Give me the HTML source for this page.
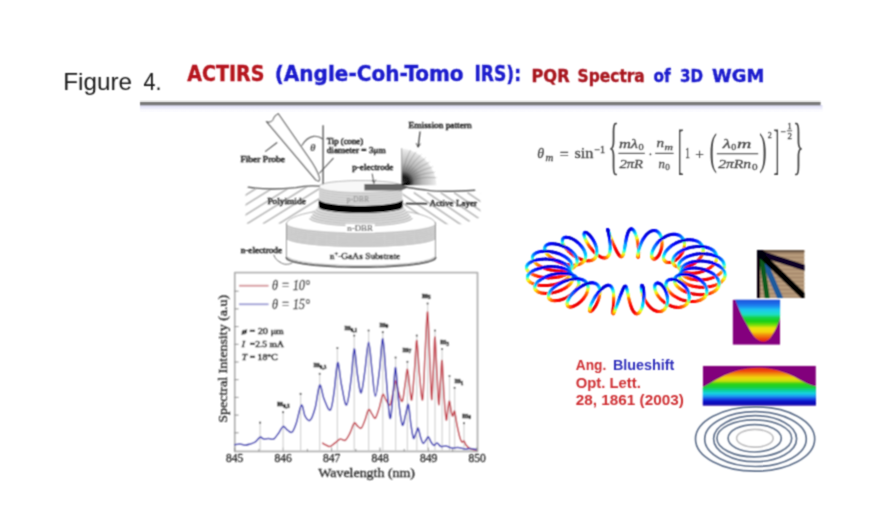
<!DOCTYPE html>
<html lang="en">
<head>
<meta charset="utf-8">
<title>Figure 4. ACTIRS (Angle-Coh-Tomo IRS): PQR Spectra of 3D WGM</title>
<style>
html,body{margin:0;padding:0;background:#fff;}
body{width:869px;height:519px;overflow:hidden;font-family:"Liberation Sans",sans-serif;}
svg{display:block;position:absolute;left:0;top:0;}
text{white-space:pre;}
</style>
</head>
<body>
<svg width="869" height="519" viewBox="0 0 869 519">
<defs>
<filter id="b1" x="-10%" y="-10%" width="120%" height="120%"><feConvolveMatrix order="3" kernelMatrix="0.04 0.12 0.04 0.12 0.36 0.12 0.04 0.12 0.04"/></filter>
<filter id="b2" x="-10%" y="-10%" width="120%" height="120%"><feConvolveMatrix order="3" kernelMatrix="1 2 1 2 4 2 1 2 1" divisor="16"/></filter>
<filter id="b3" x="-10%" y="-10%" width="120%" height="120%"><feGaussianBlur stdDeviation="0.8"/></filter>
</defs>
<rect x="0" y="0" width="869" height="519" fill="#fff"/>
<g id="header"><g filter="url(#b1)">
<linearGradient id="sh" x1="0" y1="105" x2="0" y2="111" gradientUnits="userSpaceOnUse"><stop offset="0" stop-color="#dcdcf6"/><stop offset="0.5" stop-color="#ececfb"/><stop offset="1" stop-color="#ffffff"/></linearGradient>
<rect x="140" y="105" width="682.5" height="6" fill="url(#sh)"/>
<rect x="140" y="101.9" width="680.6" height="3.5" fill="#787878"/>
</g>
<g filter="url(#b1)">
<text font-size="24" font-family='"Liberation Sans", sans-serif' fill="#161616"><tspan x="63.3" y="89.8" textLength="68.7" lengthAdjust="spacingAndGlyphs" >Figure</tspan> <tspan x="143.4" y="89.8" textLength="18" lengthAdjust="spacingAndGlyphs" >4.</tspan></text>
<text font-size="22" font-weight="bold" font-family='"DejaVu Sans Condensed", "DejaVu Sans", "Liberation Sans", sans-serif' stroke-width="0.35"><tspan x="187.3" y="81.1" textLength="77.1" lengthAdjust="spacingAndGlyphs" fill="#b5121b" stroke="#b5121b">ACTIRS</tspan> <tspan x="274.7" y="81.1" textLength="188.9" lengthAdjust="spacingAndGlyphs" fill="#1a1acd" stroke="#1a1acd">(Angle-Coh-Tomo</tspan> <tspan x="474.4" y="81.1" textLength="46.6" lengthAdjust="spacingAndGlyphs" fill="#1a1acd" stroke="#1a1acd">IRS):</tspan> <tspan x="531.5" y="82.0" textLength="38.1" lengthAdjust="spacingAndGlyphs" fill="#a8141e" stroke="#a8141e" font-size="17.5">PQR</tspan> <tspan x="577.6" y="82.0" textLength="67.2" lengthAdjust="spacingAndGlyphs" fill="#a8141e" stroke="#a8141e" font-size="17.5">Spectra</tspan> <tspan x="653.6" y="82.0" textLength="17.2" lengthAdjust="spacingAndGlyphs" fill="#1a1acd" stroke="#1a1acd" font-size="17.5">of</tspan> <tspan x="680" y="82.0" textLength="23" lengthAdjust="spacingAndGlyphs" fill="#1a1acd" stroke="#1a1acd" font-size="17.5">3D</tspan> <tspan x="712" y="82.0" textLength="52.2" lengthAdjust="spacingAndGlyphs" fill="#1a1acd" stroke="#1a1acd" font-size="17.5">WGM</tspan></text>
</g></g>
<g id="device"><g filter="url(#b2)" stroke-linecap="round" stroke-linejoin="round">
<clipPath id="hl"><path d="M245.5,189 L282,189.5 L306,186.5 L319.5,186.5 L319.5,207 L311,213.5 L300,216.5 L287,223.8 L245.5,223.8 Z"/></clipPath>
<path d="M199.9,223.4 L269.9,180.0 M215.8,223.4 L285.8,180.0 M231.7,223.4 L301.7,180.0 M247.6,223.4 L317.6,180.0 M263.5,223.4 L333.5,180.0 M279.4,223.4 L349.4,180.0 M295.3,223.4 L365.3,180.0 M311.2,223.4 L381.2,180.0 M327.1,223.4 L397.1,180.0 M343.0,223.4 L413.0,180.0 M358.9,223.4 L428.9,180.0" stroke="#bcbcbc" stroke-width="1.7" fill="none" clip-path="url(#hl)"/>
<clipPath id="hr"><path d="M402.5,188 L424,190.5 L442,192.3 L475,191 L480.5,193 L480.5,217.5 L462,224.3 L437,224.3 L436,221.5 L423,217.3 L411,213.5 L402.5,206 Z"/></clipPath>
<path d="M360.8,193 L420.8,233.8 M374.2,193 L434.2,233.8 M387.6,193 L447.6,233.8 M401.0,193 L461.0,233.8 M414.4,193 L474.4,233.8 M427.8,193 L487.8,233.8 M441.2,193 L501.2,233.8 M454.6,193 L514.6,233.8 M468.0,193 L528.0,233.8 M481.4,193 L541.4,233.8 M494.8,193 L554.8,233.8" stroke="#bcbcbc" stroke-width="1.7" fill="none" clip-path="url(#hr)"/>
<path d="M286.4,224.2 L286.9,222.4 L288.3,220.6 L290.6,218.9 L293.8,217.3 L297.8,215.7 L302.7,214.2 L308.2,212.9 L314.5,211.7 L321.3,210.7 L328.6,209.8 L336.4,209.1 L344.4,208.6 L352.6,208.3 L361.0,208.2 L369.4,208.3 L377.6,208.6 L385.6,209.1 L393.4,209.8 L400.7,210.7 L407.5,211.7 L413.8,212.9 L419.3,214.2 L424.2,215.7 L428.2,217.3 L431.4,218.9 L433.7,220.6 L435.1,222.4 L435.6,224.2 L435.6,257.6 L435.1,258.7 L433.7,259.7 L431.4,260.8 L428.2,261.8 L424.2,262.7 L419.3,263.6 L413.8,264.4 L407.5,265.1 L400.7,265.7 L393.4,266.2 L385.6,266.7 L377.6,267.0 L369.4,267.1 L361.0,267.2 L352.6,267.1 L344.4,267.0 L336.4,266.7 L328.6,266.2 L321.3,265.7 L314.5,265.1 L308.2,264.4 L302.7,263.6 L297.8,262.7 L293.8,261.8 L290.6,260.8 L288.3,259.7 L286.9,258.7 L286.4,257.6 Z" fill="#fff"/>
<path d="M286.4,222.8 L286.9,223.9 L288.3,224.9 L290.6,225.9 L293.8,226.9 L297.8,227.8 L302.7,228.7 L308.2,229.4 L314.5,230.1 L321.3,230.8 L328.6,231.3 L336.4,231.7 L344.4,232.0 L352.6,232.1 L361.0,232.2 L369.4,232.1 L377.6,232.0 L385.6,231.7 L393.4,231.3 L400.7,230.8 L407.5,230.1 L413.8,229.4 L419.3,228.7 L424.2,227.8 L428.2,226.9 L431.4,225.9 L433.7,224.9 L435.1,223.9 L435.6,222.8 L435.6,238.2 L435.1,239.2 L433.7,240.2 L431.4,241.1 L428.2,242.0 L424.2,242.9 L419.3,243.7 L413.8,244.4 L407.5,245.1 L400.7,245.7 L393.4,246.1 L385.6,246.5 L377.6,246.8 L369.4,246.9 L361.0,247.0 L352.6,246.9 L344.4,246.8 L336.4,246.5 L328.6,246.1 L321.3,245.7 L314.5,245.1 L308.2,244.4 L302.7,243.7 L297.8,242.9 L293.8,242.0 L290.6,241.1 L288.3,240.2 L286.9,239.2 L286.4,238.2 Z" fill="#e3e3e3"/>
<path d="M287.0,225.6 L289.5,227.0 L293.8,228.4 L299.8,229.7 L307.4,230.9 L316.3,231.8 L326.5,232.6 L337.5,233.2 L349.1,233.6 L361.0,233.7 L372.9,233.6 L384.5,233.2 L395.5,232.6 L405.7,231.8 L414.6,230.9 L422.2,229.7 L428.2,228.4 L432.5,227.0 L435.0,225.6 M287.0,227.8 L289.5,229.2 L293.8,230.6 L299.8,231.9 L307.4,233.0 L316.3,234.0 L326.5,234.8 L337.5,235.3 L349.1,235.7 L361.0,235.8 L372.9,235.7 L384.5,235.3 L395.5,234.8 L405.7,234.0 L414.6,233.0 L422.2,231.9 L428.2,230.6 L432.5,229.2 L435.0,227.8 M287.0,230.0 L289.5,231.4 L293.8,232.8 L299.8,234.0 L307.4,235.2 L316.3,236.1 L326.5,236.9 L337.5,237.5 L349.1,237.8 L361.0,237.9 L372.9,237.8 L384.5,237.5 L395.5,236.9 L405.7,236.1 L414.6,235.2 L422.2,234.0 L428.2,232.8 L432.5,231.4 L435.0,230.0 M287.0,232.1 L289.5,233.6 L293.8,234.9 L299.8,236.2 L307.4,237.3 L316.3,238.3 L326.5,239.0 L337.5,239.6 L349.1,239.9 L361.0,240.1 L372.9,239.9 L384.5,239.6 L395.5,239.0 L405.7,238.3 L414.6,237.3 L422.2,236.2 L428.2,234.9 L432.5,233.6 L435.0,232.1 M287.0,234.3 L289.5,235.7 L293.8,237.1 L299.8,238.3 L307.4,239.4 L316.3,240.4 L326.5,241.2 L337.5,241.7 L349.1,242.1 L361.0,242.2 L372.9,242.1 L384.5,241.7 L395.5,241.2 L405.7,240.4 L414.6,239.4 L422.2,238.3 L428.2,237.1 L432.5,235.7 L435.0,234.3 M287.0,236.5 L289.5,237.9 L293.8,239.3 L299.8,240.5 L307.4,241.6 L316.3,242.5 L326.5,243.3 L337.5,243.8 L349.1,244.2 L361.0,244.3 L372.9,244.2 L384.5,243.8 L395.5,243.3 L405.7,242.5 L414.6,241.6 L422.2,240.5 L428.2,239.3 L432.5,237.9 L435.0,236.5 M287.0,238.7 L289.5,240.1 L293.8,241.4 L299.8,242.6 L307.4,243.7 L316.3,244.7 L326.5,245.4 L337.5,246.0 L349.1,246.3 L361.0,246.4 L372.9,246.3 L384.5,246.0 L395.5,245.4 L405.7,244.7 L414.6,243.7 L422.2,242.6 L428.2,241.4 L432.5,240.1 L435.0,238.7" stroke="#a2a2a2" stroke-width="0.8" fill="none"/>
<path d="M286.4,224.2 L286.9,222.4 L288.3,220.6 L290.6,218.9 L293.8,217.3 L297.8,215.7 L302.7,214.2 L308.2,212.9 L314.5,211.7 L321.3,210.7 L328.6,209.8 L336.4,209.1 L344.4,208.6 L352.6,208.3 L361.0,208.2 L369.4,208.3 L377.6,208.6 L385.6,209.1 L393.4,209.8 L400.7,210.7 L407.5,211.7 L413.8,212.9 L419.3,214.2 L424.2,215.7 L428.2,217.3 L431.4,218.9 L433.7,220.6 L435.1,222.4 L435.6,224.2" stroke="#a8a8a8" stroke-width="0.9" fill="none" />
<path d="M286.5,223.5 L286.5,257.8" stroke="#9a9a9a" stroke-width="1.1" fill="none" />
<path d="M435.4,222.5 L435.4,257.6" stroke="#9a9a9a" stroke-width="1.1" fill="none" />
<path d="M288.0,257.5 L289.4,258.5 L291.5,259.4 L294.3,260.3 L297.9,261.1 L302.1,261.9 L307.0,262.7 L312.4,263.4 L318.3,264.0 L324.7,264.5 L331.5,264.9 L338.6,265.3 L345.9,265.5 L353.4,265.7 L361.0,265.7 L368.6,265.7 L376.1,265.5 L383.4,265.3 L390.5,264.9 L397.3,264.5 L403.7,264.0 L409.6,263.4 L415.0,262.7 L419.9,261.9 L424.1,261.1 L427.7,260.3 L430.5,259.4 L432.6,258.5 L434.0,257.5" stroke="#c4c4c4" stroke-width="1.4" fill="none" />
<path d="M286.4,257.6 L286.9,258.7 L288.3,259.7 L290.6,260.8 L293.8,261.8 L297.8,262.7 L302.7,263.6 L308.2,264.4 L314.5,265.1 L321.3,265.7 L328.6,266.2 L336.4,266.7 L344.4,267.0 L352.6,267.1 L361.0,267.2 L369.4,267.1 L377.6,267.0 L385.6,266.7 L393.4,266.2 L400.7,265.7 L407.5,265.1 L413.8,264.4 L419.3,263.6 L424.2,262.7 L428.2,261.8 L431.4,260.8 L433.7,259.7 L435.1,258.7 L435.6,257.6" stroke="#5c5c5c" stroke-width="1.7" fill="none" />
<path d="M319.0,205.3 L319.7,206.0 L320.9,206.7 L322.5,207.4 L324.6,208.1 L327.0,208.7 L329.7,209.2 L332.8,209.7 L336.2,210.2 L339.9,210.6 L343.8,210.9 L347.8,211.2 L352.1,211.4 L356.4,211.5 L360.7,211.5 L365.0,211.5 L369.3,211.4 L373.6,211.2 L377.6,210.9 L381.5,210.6 L385.2,210.2 L388.6,209.7 L391.7,209.2 L394.4,208.7 L396.8,208.1 L398.9,207.4 L400.5,206.7 L401.7,206.0 L402.4,205.3 L412.5,218.7 L411.5,219.5 L410.0,220.4 L407.9,221.2 L405.4,221.9 L402.4,222.6 L399.0,223.3 L395.1,223.9 L390.9,224.4 L386.5,224.9 L381.7,225.3 L376.7,225.6 L371.6,225.8 L366.3,226.0 L361.0,226.0 L355.7,226.0 L350.4,225.8 L345.3,225.6 L340.3,225.3 L335.5,224.9 L331.1,224.4 L326.9,223.9 L323.0,223.3 L319.6,222.6 L316.6,221.9 L314.1,221.2 L312.0,220.4 L310.5,219.5 L309.5,218.7 Z" fill="#e2e2e2"/>
<path d="M318.0,207.7 L319.8,209.1 L323.3,210.4 L328.5,211.6 L335.0,212.6 L342.7,213.3 L351.1,213.8 L359.9,214.0 L368.8,213.9 L377.4,213.5 L385.2,212.8 L392.0,211.8 L397.4,210.7 L401.3,209.4 L403.4,208.0 M316.3,209.9 L318.3,211.4 L322.1,212.8 L327.6,214.0 L334.5,215.0 L342.4,215.8 L351.2,216.2 L360.4,216.4 L369.6,216.3 L378.4,215.8 L386.5,215.1 L393.5,214.1 L399.1,212.9 L403.0,211.5 L405.2,210.1 M314.6,212.2 L316.8,213.7 L320.9,215.1 L326.6,216.4 L333.8,217.4 L342.2,218.2 L351.3,218.6 L360.8,218.8 L370.3,218.6 L379.4,218.2 L387.8,217.4 L395.0,216.4 L400.7,215.1 L404.8,213.7 L407.0,212.2 M312.9,214.4 L315.3,216.0 L319.6,217.5 L325.7,218.7 L333.2,219.8 L341.9,220.6 L351.3,221.0 L361.2,221.2 L371.0,221.0 L380.4,220.5 L389.0,219.7 L396.4,218.6 L402.3,217.4 L406.5,215.9 L408.8,214.3 M311.2,216.7 L313.8,218.3 L318.4,219.8 L324.7,221.1 L332.5,222.2 L341.5,223.0 L351.3,223.5 L361.5,223.6 L371.7,223.4 L381.4,222.9 L390.3,222.0 L397.9,220.9 L404.0,219.6 L408.3,218.1 L410.6,216.4 M309.5,218.9 L312.3,220.6 L317.1,222.1 L323.7,223.5 L331.8,224.6 L341.1,225.4 L351.3,225.9 L361.8,226.0 L372.3,225.8 L382.4,225.2 L391.5,224.4 L399.4,223.2 L405.6,221.8 L410.0,220.2 L412.4,218.6" stroke="#a6a6a6" stroke-width="0.8" fill="none"/>
<path d="M319.1,186.2 L319.4,185.6 L320.1,185.0 L321.4,184.4 L323.2,183.8 L325.5,183.2 L328.2,182.7 L331.3,182.2 L334.8,181.8 L338.6,181.5 L342.7,181.2 L347.0,180.9 L351.4,180.7 L356.0,180.6 L360.7,180.6 L365.4,180.6 L370.0,180.7 L374.4,180.9 L378.7,181.2 L382.8,181.5 L386.6,181.8 L390.1,182.2 L393.2,182.7 L395.9,183.2 L398.2,183.8 L400.0,184.4 L401.3,185.0 L402.0,185.6 L402.3,186.2 L402.3,204.2 L402.0,205.0 L401.3,205.8 L400.0,206.6 L398.2,207.3 L395.9,208.0 L393.2,208.7 L390.1,209.3 L386.6,209.8 L382.8,210.3 L378.7,210.7 L374.4,211.0 L370.0,211.2 L365.4,211.4 L360.7,211.4 L356.0,211.4 L351.4,211.2 L347.0,211.0 L342.7,210.7 L338.6,210.3 L334.8,209.8 L331.3,209.3 L328.2,208.7 L325.5,208.0 L323.2,207.3 L321.4,206.6 L320.1,205.8 L319.4,205.0 L319.1,204.2 Z" fill="#dedede"/>
<path d="M319.1,186.2 L319.4,185.6 L320.1,185.0 L321.4,184.4 L323.2,183.8 L325.5,183.2 L328.2,182.7 L331.3,182.2 L334.8,181.8 L338.6,181.5 L342.7,181.2 L347.0,180.9 L351.4,180.7 L356.0,180.6 L360.7,180.6 L365.4,180.6 L370.0,180.7 L374.4,180.9 L378.7,181.2 L382.8,181.5 L386.6,181.8 L390.1,182.2 L393.2,182.7 L395.9,183.2 L398.2,183.8 L400.0,184.4 L401.3,185.0 L402.0,185.6 L402.3,186.2 L402.3,186.2 L402.0,186.8 L401.3,187.4 L400.0,188.0 L398.2,188.6 L395.9,189.2 L393.2,189.7 L390.1,190.2 L386.6,190.6 L382.8,190.9 L378.7,191.2 L374.4,191.5 L370.0,191.7 L365.4,191.8 L360.7,191.8 L356.0,191.8 L351.4,191.7 L347.0,191.5 L342.7,191.2 L338.6,190.9 L334.8,190.6 L331.3,190.2 L328.2,189.7 L325.5,189.2 L323.2,188.6 L321.4,188.0 L320.1,187.4 L319.4,186.8 L319.1,186.2 Z" fill="#f8f8f8"/>
<path d="M319.1,186.2 L319.4,185.6 L320.1,185.0 L321.4,184.4 L323.2,183.8 L325.5,183.2 L328.2,182.7 L331.3,182.2 L334.8,181.8 L338.6,181.5 L342.7,181.2 L347.0,180.9 L351.4,180.7 L356.0,180.6 L360.7,180.6 L365.4,180.6 L370.0,180.7 L374.4,180.9 L378.7,181.2 L382.8,181.5 L386.6,181.8 L390.1,182.2 L393.2,182.7 L395.9,183.2 L398.2,183.8 L400.0,184.4 L401.3,185.0 L402.0,185.6 L402.3,186.2" stroke="#b0b0b0" stroke-width="0.9" fill="none" />
<path d="M319.6,188.4 L321.7,189.5 L325.4,190.6 L330.6,191.5 L337.0,192.3 L344.3,192.8 L352.3,193.2 L360.7,193.3 L369.1,193.2 L377.1,192.8 L384.4,192.3 L390.8,191.5 L396.0,190.6 L399.7,189.5 L401.8,188.4 M319.6,190.7 L321.7,191.9 L325.4,193.0 L330.6,193.9 L337.0,194.7 L344.3,195.3 L352.3,195.7 L360.7,195.8 L369.1,195.7 L377.1,195.3 L384.4,194.7 L390.8,193.9 L396.0,193.0 L399.7,191.9 L401.8,190.7 M319.6,193.1 L321.7,194.3 L325.4,195.4 L330.6,196.4 L337.0,197.2 L344.3,197.8 L352.3,198.2 L360.7,198.3 L369.1,198.2 L377.1,197.8 L384.4,197.2 L390.8,196.4 L396.0,195.4 L399.7,194.3 L401.8,193.1 M319.6,195.4 L321.7,196.6 L325.4,197.8 L330.6,198.8 L337.0,199.7 L344.3,200.3 L352.3,200.7 L360.7,200.8 L369.1,200.7 L377.1,200.3 L384.4,199.7 L390.8,198.8 L396.0,197.8 L399.7,196.6 L401.8,195.4 M319.6,197.7 L321.7,199.0 L325.4,200.2 L330.6,201.3 L337.0,202.1 L344.3,202.8 L352.3,203.2 L360.7,203.3 L369.1,203.2 L377.1,202.8 L384.4,202.1 L390.8,201.3 L396.0,200.2 L399.7,199.0 L401.8,197.7 M319.6,200.1 L321.7,201.4 L325.4,202.6 L330.6,203.7 L337.0,204.6 L344.3,205.3 L352.3,205.7 L360.7,205.8 L369.1,205.7 L377.1,205.3 L384.4,204.6 L390.8,203.7 L396.0,202.6 L399.7,201.4 L401.8,200.1" stroke="#b2b2b2" stroke-width="0.8" fill="none"/>
<path d="M318.8,199.4 L319.1,200.1 L319.9,200.9 L321.2,201.6 L322.9,202.3 L325.2,202.9 L327.9,203.5 L331.1,204.1 L334.6,204.6 L338.4,205.0 L342.5,205.3 L346.9,205.6 L351.4,205.8 L356.0,206.0 L360.7,206.0 L365.4,206.0 L370.0,205.8 L374.5,205.6 L378.9,205.3 L383.0,205.0 L386.8,204.6 L390.3,204.1 L393.5,203.5 L396.2,202.9 L398.5,202.3 L400.2,201.6 L401.5,200.9 L402.3,200.1 L402.6,199.4 L402.6,207.0 L402.3,207.6 L401.5,208.3 L400.2,208.9 L398.5,209.5 L396.2,210.1 L393.5,210.6 L390.3,211.1 L386.8,211.5 L383.0,211.9 L378.9,212.2 L374.5,212.5 L370.0,212.7 L365.4,212.8 L360.7,212.8 L356.0,212.8 L351.4,212.7 L346.9,212.5 L342.5,212.2 L338.4,211.9 L334.6,211.5 L331.1,211.1 L327.9,210.6 L325.2,210.1 L322.9,209.5 L321.2,208.9 L319.9,208.3 L319.1,207.6 L318.8,207.0 Z" fill="#000"/>
<path d="M364.4,184 L401,184 L408.5,187.2 L401,190.4 L364.4,190.4 Z" fill="#666"/>
<rect x="345.5" y="223.7" width="29.3" height="9" fill="#fff"/>
<radialGradient id="ef" cx="403.2" cy="182.2" r="35" gradientUnits="userSpaceOnUse"><stop offset="0" stop-color="#000"/><stop offset="0.16" stop-color="#080808"/><stop offset="0.32" stop-color="#7c7c7c"/><stop offset="0.55" stop-color="#b8b8b8"/><stop offset="0.82" stop-color="#dcdcdc"/><stop offset="1" stop-color="#f6f6f6"/></radialGradient>
<path d="M401.6,148.6 C419,150 435.5,165 436.4,185.2 L401.6,185.2 Z" fill="url(#ef)"/>
<path d="M402.5,183.5 Q401.7,166.5 410.4,150.4 M402.5,183.5 Q404.6,166.6 415.8,152.2 M402.5,183.5 Q407.3,167.2 420.8,154.8 M402.5,183.5 Q409.9,168.2 425.3,158.2 M402.5,183.5 Q412.4,169.7 429.1,162.3 M402.5,183.5 Q414.5,171.5 432.2,167.0 M402.5,183.5 Q416.3,173.6 434.5,172.2 M402.5,183.5 Q417.8,176.0 436.0,177.6" stroke="#555" stroke-width="0.7" fill="none" opacity="0.45"/>
<path d="M401.7,148.6 L401.7,183" stroke="#9a9a9a" stroke-width="0.9" fill="none" />
<path d="M248.2,187.2 C262,189.4 282,189.2 296,187.6 C305,185.6 312,185.6 319.3,186.2" stroke="#5c5c5c" stroke-width="1.3" fill="none" />
<path d="M403,186.8 C412,188.2 420,189.5 428,190.4 C440,191.8 455,191.5 474.7,190.2" stroke="#5c5c5c" stroke-width="1.4" fill="none" />
<path d="M266.4,121.5 C270,123.2 273.5,121 273.6,118.2 C274.5,116.3 276.5,114.5 278.2,113.7 L308,156.6 C313,163.5 317.5,171 319.3,177.4 C320,180 319.2,181.4 318.2,181 L315.8,180 Z" stroke="#6a6a6a" stroke-width="1.2" fill="#fff" />
<path d="M323.1,125.3 L323.1,184.3" stroke="#7a7a7a" stroke-width="1.7" fill="none" stroke-linecap="butt"/>
<path d="M302,145.3 C304.5,141 308,137.2 313.5,136.4 C317.5,136 320.5,137.2 322.8,139" stroke="#666" stroke-width="1.1" fill="none" />
<path d="M276.8,142.7 L265.5,151.4" stroke="#555" stroke-width="1.1" fill="none" />
<path d="M333.2,158.3 L319.6,173" stroke="#555" stroke-width="1.1" fill="none" />
<path d="M372.2,174 L373.8,182.3" stroke="#555" stroke-width="1.0" fill="none" />
<path d="M372.3,180.3 L373.9,183.4 L375.6,180" stroke="#555" stroke-width="0.9" fill="none" />
<path d="M420,132 L418.2,146.6" stroke="#444" stroke-width="1.3" fill="none" />
<path d="M416.4,143.6 L418.1,147.2 L420.2,144" stroke="#444" stroke-width="1.0" fill="none" />
<path d="M406.4,203.7 L426.7,203.7" stroke="#333" stroke-width="1.7" fill="none" />
<path d="M280,262.1 C283.5,265 288.5,265 292.3,262.8" stroke="#777" stroke-width="1.0" fill="none" />
<path d="M273.8,255 C275,258.5 277,260.5 280,262.1" stroke="#777" stroke-width="1.0" fill="none" />
<text x="240.4" y="162.2" font-size="8.8" font-family='"Liberation Serif", serif' fill="#262626" textLength="44.7" lengthAdjust="spacingAndGlyphs" stroke="#262626" stroke-width="0.5">Fiber Probe</text>
<text x="326.7" y="143.6" font-size="8.6" font-family='"Liberation Serif", serif' fill="#262626" textLength="36.5" lengthAdjust="spacingAndGlyphs" stroke="#262626" stroke-width="0.5">Tip (cone)</text>
<text x="326.7" y="153.4" font-size="8.6" font-family='"Liberation Serif", serif' fill="#262626" textLength="59.0" lengthAdjust="spacingAndGlyphs" stroke="#262626" stroke-width="0.5">diameter = 3μm</text>
<text x="310.2" y="150.6" font-size="10" font-family='"Liberation Serif", serif' fill="#333" font-weight="bold" font-style="italic">θ</text>
<text x="352.2" y="170.4" font-size="8.6" font-family='"Liberation Serif", serif' fill="#262626" textLength="41.2" lengthAdjust="spacingAndGlyphs" stroke="#262626" stroke-width="0.5">p-electrode</text>
<text x="408.6" y="128.1" font-size="8.7" font-family='"Liberation Serif", serif' fill="#262626" textLength="63.0" lengthAdjust="spacingAndGlyphs" stroke="#262626" stroke-width="0.5">Emission pattern</text>
<text x="267.4" y="204.3" font-size="8.6" font-family='"Liberation Serif", serif' fill="#262626" textLength="38.4" lengthAdjust="spacingAndGlyphs" stroke="#262626" stroke-width="0.5">Polyimide</text>
<text x="346.6" y="202.0" font-size="8.0" font-family='"Liberation Serif", serif' fill="#8e8e8e" textLength="22.5" lengthAdjust="spacingAndGlyphs">p-DBR</text>
<text x="347.3" y="231.2" font-size="8.0" font-family='"Liberation Serif", serif' fill="#555" textLength="25.5" lengthAdjust="spacingAndGlyphs" stroke="#555" stroke-width="0.2">n-DBR</text>
<text x="429.5" y="206.0" font-size="8.9" font-family='"Liberation Serif", serif' fill="#262626" textLength="47.5" lengthAdjust="spacingAndGlyphs" stroke="#262626" stroke-width="0.5">Active Layer</text>
<text x="240.7" y="253.3" font-size="8.6" font-family='"Liberation Serif", serif' fill="#262626" textLength="41.3" lengthAdjust="spacingAndGlyphs" stroke="#262626" stroke-width="0.5">n-electrode</text>
<text x="329.8" y="259.2" font-size="8.6" font-family='"Liberation Serif", serif' fill="#262626" stroke="#262626" stroke-width="0.5" textLength="70.5" lengthAdjust="spacingAndGlyphs">n<tspan font-size="6" dy="-3">+</tspan><tspan dy="3">-GaAs Substrate</tspan></text>
</g></g>
<g id="graph"><g filter="url(#b2)" stroke-linecap="round" stroke-linejoin="round">
<rect x="234.8" y="272.6" width="242.7" height="178.8" fill="#fff" stroke="#b2b2b2" stroke-width="1.8"/>
<path d="M235,432.8 L238.2,432.8 M235,415.1 L238.2,415.1 M235,397.4 L238.2,397.4 M235,379.7 L238.2,379.7 M235,362.0 L238.2,362.0 M235,344.3 L238.2,344.3 M235,326.6 L238.2,326.6 M235,308.9 L238.2,308.9 M235,291.2 L238.2,291.2" stroke="#8a8a8a" stroke-width="1" fill="none"/>
<path d="M234.8,451 L234.8,448.0 M259.0,451 L259.0,449.3 M283.2,451 L283.2,448.0 M307.4,451 L307.4,449.3 M331.6,451 L331.6,448.0 M355.8,451 L355.8,449.3 M380.0,451 L380.0,448.0 M404.2,451 L404.2,449.3 M428.4,451 L428.4,448.0 M452.6,451 L452.6,449.3 M476.8,451 L476.8,448.0" stroke="#8a8a8a" stroke-width="1" fill="none"/>
<path d="M260.1,422.7 L260.1,450.5 M283.1,412.2 L283.1,450.5 M300.6,393.9 L300.6,450.5 M319.7,373.8 L319.7,450.5 M337.4,348.0 L337.4,450.5 M354.2,335.6 L354.2,450.5 M368.6,330.5 L368.6,450.5 M382.8,332.2 L382.8,450.5 M395.6,357.5 L395.6,450.5 M407.4,361.8 L407.4,450.5 M416.8,335.6 L416.8,450.5 M427.6,303.5 L427.6,450.5 M435.0,330.5 L435.0,450.5 M442.1,349.0 L442.1,450.5 M449.5,376.0 L449.5,450.5 M454.6,387.8 L454.6,450.5 M464.0,423.2 L464.0,450.5" stroke="#d2d2d2" stroke-width="1.2" fill="none"/>
<circle cx="260.1" cy="422.7" r="1.1" fill="#555"/><circle cx="283.1" cy="412.2" r="1.1" fill="#555"/><circle cx="300.6" cy="393.9" r="1.1" fill="#555"/><circle cx="319.7" cy="373.8" r="1.1" fill="#555"/><circle cx="337.4" cy="348.0" r="1.1" fill="#555"/><circle cx="354.2" cy="335.6" r="1.1" fill="#555"/><circle cx="368.6" cy="330.5" r="1.1" fill="#555"/><circle cx="382.8" cy="332.2" r="1.1" fill="#555"/><circle cx="395.6" cy="357.5" r="1.1" fill="#555"/><circle cx="407.4" cy="361.8" r="1.1" fill="#555"/><circle cx="416.8" cy="335.6" r="1.1" fill="#555"/><circle cx="427.6" cy="303.5" r="1.1" fill="#555"/><circle cx="435.0" cy="330.5" r="1.1" fill="#555"/><circle cx="442.1" cy="349.0" r="1.1" fill="#555"/><circle cx="449.5" cy="376.0" r="1.1" fill="#555"/><circle cx="454.6" cy="387.8" r="1.1" fill="#555"/><circle cx="464.0" cy="423.2" r="1.1" fill="#555"/>
<path d="M322.7,443.2 C323.2,443.5 324.8,444.4 326.0,445.0 C327.2,445.6 328.7,446.8 330.2,446.5 C331.7,446.2 333.3,444.2 335.0,443.0 C336.7,441.8 338.5,439.5 340.2,439.0 C341.9,438.5 343.6,441.2 345.2,440.2 C346.8,439.2 348.5,435.8 350.0,433.0 C351.5,430.2 352.9,424.4 354.2,423.2 C355.4,422.0 356.3,425.2 357.5,426.0 C358.7,426.8 359.9,429.2 361.2,428.2 C362.4,427.2 363.8,423.1 365.0,420.0 C366.2,416.9 367.4,410.7 368.6,409.7 C369.8,408.7 370.9,412.6 372.0,414.0 C373.1,415.4 374.1,419.3 375.4,418.1 C376.6,416.9 378.3,410.9 379.5,407.0 C380.7,403.1 381.7,395.7 382.8,394.5 C383.9,393.3 384.8,398.2 386.0,400.0 C387.2,401.8 388.7,406.2 389.9,405.0 C391.1,403.8 392.1,397.0 393.0,393.0 C393.9,389.0 394.7,381.2 395.6,381.0 C396.5,380.8 397.4,388.6 398.5,392.0 C399.6,395.4 401.2,402.5 402.3,401.3 C403.4,400.1 404.1,390.3 405.0,385.0 C405.9,379.7 406.6,368.8 407.4,369.3 C408.2,369.8 409.1,382.9 409.8,388.0 C410.5,393.1 411.0,402.6 411.8,399.6 C412.6,396.6 413.7,379.8 414.5,370.0 C415.3,360.2 416.0,339.8 416.8,340.6 C417.6,341.4 418.5,365.2 419.5,375.0 C420.5,384.8 421.7,402.9 422.6,399.6 C423.5,396.3 424.2,369.6 425.0,355.0 C425.8,340.4 426.8,311.2 427.6,312.0 C428.4,312.8 429.1,345.4 429.8,360.0 C430.5,374.6 431.1,398.8 431.7,399.6 C432.3,400.4 432.9,375.4 433.5,365.0 C434.1,354.6 434.4,335.5 435.0,337.2 C435.6,338.9 436.4,363.8 437.0,375.0 C437.6,386.2 438.2,403.8 438.8,404.6 C439.4,405.4 439.9,387.3 440.5,380.0 C441.1,372.7 441.5,358.3 442.1,360.8 C442.7,363.3 443.3,385.2 444.0,395.0 C444.7,404.8 445.5,417.6 446.2,419.8 C446.9,422.0 447.4,411.1 448.0,408.0 C448.6,404.9 448.9,400.5 449.5,401.3 C450.1,402.1 450.9,410.6 451.5,413.0 C452.1,415.4 452.3,416.3 452.8,416.0 C453.3,415.7 453.9,409.9 454.6,411.4 C455.3,412.9 456.1,420.6 457.0,425.0 C457.9,429.4 459.2,435.2 460.0,438.0 C460.8,440.8 461.3,441.5 462.0,442.0 C462.7,442.5 463.3,440.7 464.0,441.2 C464.7,441.7 465.2,443.9 466.0,445.0 C466.8,446.1 467.8,447.2 469.0,448.0 C470.2,448.8 471.8,449.2 473.0,449.5 C474.2,449.8 475.5,449.9 476.0,450.0" stroke="#c64c56" stroke-width="1.6" fill="none"/>
<path d="M235.0,444.7 C235.8,444.6 238.3,443.9 240.0,444.0 C241.7,444.1 243.3,445.2 245.0,445.2 C246.7,445.2 248.3,444.5 250.0,444.0 C251.7,443.5 253.3,443.3 255.0,442.2 C256.7,441.1 258.6,437.7 260.1,437.2 C261.6,436.7 262.4,438.8 263.8,439.0 C265.2,439.2 267.1,438.5 268.8,438.5 C270.5,438.5 272.1,440.0 273.8,439.0 C275.5,438.0 277.3,434.8 278.9,432.7 C280.4,430.6 281.7,426.8 283.1,426.4 C284.6,426.0 286.1,429.2 287.6,430.2 C289.1,431.2 290.6,433.4 292.1,432.2 C293.6,430.9 294.8,427.2 296.4,422.7 C297.9,418.2 299.9,406.2 301.4,405.2 C302.9,404.1 303.7,413.9 305.2,416.4 C306.7,418.9 308.5,421.6 310.2,420.2 C311.9,418.8 313.6,413.5 315.2,407.7 C316.8,401.9 318.2,386.6 319.7,385.1 C321.2,383.6 322.2,394.7 324.0,398.9 C325.8,403.1 328.5,411.2 330.2,410.2 C331.9,409.1 332.8,400.5 334.0,392.6 C335.2,384.7 336.4,363.9 337.7,362.6 C338.9,361.3 340.0,377.9 341.5,385.0 C343.0,392.1 344.9,405.8 346.5,405.0 C348.1,404.2 349.7,389.3 351.0,380.0 C352.3,370.7 353.1,349.8 354.2,349.0 C355.3,348.2 356.3,367.7 357.5,375.0 C358.7,382.3 359.9,393.7 361.2,392.9 C362.4,392.1 363.8,378.4 365.0,370.0 C366.2,361.6 367.4,342.3 368.6,342.3 C369.8,342.3 370.9,361.0 372.0,370.0 C373.1,379.0 374.1,396.2 375.4,396.2 C376.6,396.2 378.3,379.6 379.5,370.0 C380.7,360.4 381.7,338.1 382.8,338.9 C383.9,339.7 384.8,361.8 386.0,375.0 C387.2,388.2 388.7,414.8 389.9,418.1 C391.1,421.4 392.1,403.4 393.0,395.0 C393.9,386.6 394.7,366.8 395.6,367.6 C396.5,368.4 397.4,390.4 398.5,400.0 C399.6,409.6 401.1,422.4 402.3,424.9 C403.5,427.4 404.5,418.4 405.5,415.0 C406.5,411.6 407.5,402.9 408.4,404.6 C409.3,406.3 410.1,419.4 411.0,425.0 C411.9,430.6 412.7,437.0 413.5,438.3 C414.3,439.6 415.2,434.7 416.0,433.0 C416.8,431.3 417.4,427.5 418.2,428.2 C418.9,428.9 419.7,434.5 420.5,437.0 C421.3,439.5 422.3,442.9 423.2,443.4 C424.1,443.9 425.1,441.1 426.0,440.0 C426.9,438.9 427.5,436.4 428.3,436.7 C429.1,437.0 430.1,440.5 431.0,442.0 C431.9,443.5 433.0,445.3 434.0,445.5 C435.0,445.7 435.8,442.8 437.0,443.0 C438.2,443.2 439.5,446.0 441.0,446.5 C442.5,447.0 444.2,445.8 446.0,446.0 C447.8,446.2 450.0,447.8 452.0,448.0 C454.0,448.2 455.8,447.3 458.0,447.5 C460.2,447.7 463.0,448.8 465.0,449.0 C467.0,449.2 468.2,448.4 470.0,448.5 C471.8,448.6 475.0,449.3 476.0,449.5" stroke="#4040b6" stroke-width="1.6" fill="none"/>
<path d="M239.8,285.7 L267.8,285.7" stroke="#d89ca0" stroke-width="2"/>
<path d="M239.8,304.3 L267.8,304.3" stroke="#a2a2d8" stroke-width="2"/>
<text x="272" y="290" font-size="14.5" font-family='"Liberation Serif", serif' fill="#1e1e1e" stroke="#1e1e1e" stroke-width="0.28" textLength="38" lengthAdjust="spacingAndGlyphs"><tspan font-style="italic">θ = 10°</tspan></text>
<text x="272" y="308.7" font-size="14.5" font-family='"Liberation Serif", serif' fill="#1e1e1e" stroke="#1e1e1e" stroke-width="0.28" textLength="38" lengthAdjust="spacingAndGlyphs"><tspan font-style="italic">θ = 15°</tspan></text>
<text x="241.8" y="334.4" font-size="8.6" font-family='"Liberation Serif", serif' fill="#1e1e1e" stroke="#1e1e1e" stroke-width="0.55" textLength="42" lengthAdjust="spacingAndGlyphs"><tspan font-style="italic">ø</tspan> = 20 μm</text>
<text x="241.8" y="346.5" font-size="8.6" font-family='"Liberation Serif", serif' fill="#1e1e1e" stroke="#1e1e1e" stroke-width="0.55" textLength="42" lengthAdjust="spacingAndGlyphs"><tspan font-style="italic">I</tspan>  =2.5 mA</text>
<text x="241.8" y="360.3" font-size="8.6" font-family='"Liberation Serif", serif' fill="#1e1e1e" stroke="#1e1e1e" stroke-width="0.55" textLength="36" lengthAdjust="spacingAndGlyphs"><tspan font-style="italic">T</tspan> = 18°C</text>
<text x="283.3" y="406.0" font-size="7.5" font-weight="bold" font-family='"Liberation Serif", serif' fill="#111" stroke="#111" stroke-width="0.4" text-anchor="middle">m<tspan font-size="5.2" dy="1.6">0,5</tspan></text>
<text x="319.9" y="367.0" font-size="7.5" font-weight="bold" font-family='"Liberation Serif", serif' fill="#111" stroke="#111" stroke-width="0.4" text-anchor="middle">m<tspan font-size="5.2" dy="1.6">0,3</tspan></text>
<text x="350.8" y="330.0" font-size="7.5" font-weight="bold" font-family='"Liberation Serif", serif' fill="#111" stroke="#111" stroke-width="0.4" text-anchor="middle">m<tspan font-size="5.2" dy="1.6">0,1</tspan></text>
<text x="384.0" y="326.6" font-size="7.5" font-weight="bold" font-family='"Liberation Serif", serif' fill="#111" stroke="#111" stroke-width="0.4" text-anchor="middle">m<tspan font-size="5.2" dy="1.6">0</tspan></text>
<text x="406.8" y="351.5" font-size="7.5" font-weight="bold" font-family='"Liberation Serif", serif' fill="#111" stroke="#111" stroke-width="0.4" text-anchor="middle">m<tspan font-size="5.2" dy="1.6">7</tspan></text>
<text x="426.2" y="297.6" font-size="7.5" font-weight="bold" font-family='"Liberation Serif", serif' fill="#111" stroke="#111" stroke-width="0.4" text-anchor="middle">m<tspan font-size="5.2" dy="1.6">5</tspan></text>
<text x="444.7" y="344.2" font-size="7.5" font-weight="bold" font-family='"Liberation Serif", serif' fill="#111" stroke="#111" stroke-width="0.4" text-anchor="middle">m<tspan font-size="5.2" dy="1.6">3</tspan></text>
<text x="458.8" y="383.0" font-size="7.5" font-weight="bold" font-family='"Liberation Serif", serif' fill="#111" stroke="#111" stroke-width="0.4" text-anchor="middle">m<tspan font-size="5.2" dy="1.6">1</tspan></text>
<text x="466.6" y="417.6" font-size="7.5" font-weight="bold" font-family='"Liberation Serif", serif' fill="#111" stroke="#111" stroke-width="0.4" text-anchor="middle">m<tspan font-size="5.2" dy="1.6">0</tspan></text>
<text x="234.6" y="462.3" font-size="11.5" font-family='"Liberation Serif", serif' fill="#1e1e1e" text-anchor="middle" stroke="#1e1e1e" stroke-width="0.28">845</text>
<text x="283.0" y="462.3" font-size="11.5" font-family='"Liberation Serif", serif' fill="#1e1e1e" text-anchor="middle" stroke="#1e1e1e" stroke-width="0.28">846</text>
<text x="331.5" y="462.3" font-size="11.5" font-family='"Liberation Serif", serif' fill="#1e1e1e" text-anchor="middle" stroke="#1e1e1e" stroke-width="0.28">847</text>
<text x="380.0" y="462.3" font-size="11.5" font-family='"Liberation Serif", serif' fill="#1e1e1e" text-anchor="middle" stroke="#1e1e1e" stroke-width="0.28">848</text>
<text x="428.5" y="462.3" font-size="11.5" font-family='"Liberation Serif", serif' fill="#1e1e1e" text-anchor="middle" stroke="#1e1e1e" stroke-width="0.28">849</text>
<text x="477.0" y="462.3" font-size="11.5" font-family='"Liberation Serif", serif' fill="#1e1e1e" text-anchor="middle" stroke="#1e1e1e" stroke-width="0.28">850</text>
<text x="318.2" y="477.0" font-size="13.4" font-family='"Liberation Serif", serif' fill="#1e1e1e" textLength="96.8" lengthAdjust="spacingAndGlyphs" stroke="#1e1e1e" stroke-width="0.28">Wavelength (nm)</text>
<text transform="translate(226.6,422.8) rotate(-90)" x="0" y="0" font-size="13.2" font-family='"Liberation Serif", serif' fill="#1e1e1e" stroke="#1e1e1e" stroke-width="0.28" textLength="128" lengthAdjust="spacingAndGlyphs">Spectral Intensity (a.u)</text>
</g></g>
<g id="formula"><g filter="url(#b1)">
<text x="537.3" y="158.2" font-size="14" font-family='"Liberation Serif", serif' fill="#4a4a4a" stroke="#4a4a4a" stroke-width="0.3" font-style="italic" >θ</text>
<text x="545.4" y="161.4" font-size="9.5" font-family='"Liberation Serif", serif' fill="#4a4a4a" stroke="#4a4a4a" stroke-width="0.3" font-style="italic" textLength="7.8" lengthAdjust="spacingAndGlyphs" >m</text>
<text x="559.7" y="158.6" font-size="14" font-family='"Liberation Serif", serif' fill="#4a4a4a" stroke="#4a4a4a" stroke-width="0.3" textLength="9.0" lengthAdjust="spacingAndGlyphs" >=</text>
<text x="574.5" y="158.2" font-size="14" font-family='"Liberation Serif", serif' fill="#4a4a4a" stroke="#4a4a4a" stroke-width="0.3" textLength="19.0" lengthAdjust="spacingAndGlyphs" >sin</text>
<text x="594.2" y="152.6" font-size="9.5" font-family='"Liberation Serif", serif' fill="#4a4a4a" stroke="#4a4a4a" stroke-width="0.3" textLength="10.8" lengthAdjust="spacingAndGlyphs" >−1</text>
<text transform="translate(608.2,166.9) scale(1.6,4.52)" x="0" y="0" font-size="14" font-family='"Liberation Serif", serif' fill="#4a4a4a">{</text>
<text x="618.9" y="147.6" font-size="13" font-family='"Liberation Serif", serif' fill="#4a4a4a" stroke="#4a4a4a" stroke-width="0.3" font-style="italic" textLength="19.0" lengthAdjust="spacingAndGlyphs" >mλ</text>
<text x="638.4" y="150.0" font-size="8.5" font-family='"Liberation Serif", serif' fill="#4a4a4a" stroke="#4a4a4a" stroke-width="0.3" textLength="5.2" lengthAdjust="spacingAndGlyphs" >0</text>
<rect x="618.4" y="152.8" width="26.4" height="1.1" fill="#4a4a4a"/>
<text x="619.4" y="167.6" font-size="13" font-family='"Liberation Serif", serif' fill="#4a4a4a" stroke="#4a4a4a" stroke-width="0.3" font-style="italic" textLength="23.6" lengthAdjust="spacingAndGlyphs" >2πR</text>
<text x="648.2" y="158.0" font-size="13" font-family='"Liberation Serif", serif' fill="#4a4a4a" stroke="#4a4a4a" stroke-width="0.3" >·</text>
<text x="656.4" y="147.2" font-size="13" font-family='"Liberation Serif", serif' fill="#4a4a4a" stroke="#4a4a4a" stroke-width="0.3" font-style="italic" textLength="7.6" lengthAdjust="spacingAndGlyphs" >n</text>
<text x="664.6" y="150.0" font-size="8.5" font-family='"Liberation Serif", serif' fill="#4a4a4a" stroke="#4a4a4a" stroke-width="0.3" font-style="italic" textLength="8.4" lengthAdjust="spacingAndGlyphs" >m</text>
<rect x="655.2" y="152.8" width="18.4" height="1.1" fill="#4a4a4a"/>
<text x="658.6" y="167.6" font-size="13" font-family='"Liberation Serif", serif' fill="#4a4a4a" stroke="#4a4a4a" stroke-width="0.3" font-style="italic" textLength="6.4" lengthAdjust="spacingAndGlyphs" >n</text>
<text x="665.3" y="170.0" font-size="8.5" font-family='"Liberation Serif", serif' fill="#4a4a4a" stroke="#4a4a4a" stroke-width="0.3" textLength="4.6" lengthAdjust="spacingAndGlyphs" >0</text>
<text transform="translate(677.8,168.4) scale(1.25,3.95)" x="0" y="0" font-size="14" font-family='"Liberation Serif", serif' fill="#4a4a4a">[</text>
<text x="685.2" y="158.2" font-size="14" font-family='"Liberation Serif", serif' fill="#4a4a4a" stroke="#4a4a4a" stroke-width="0.3" textLength="4.6" lengthAdjust="spacingAndGlyphs" >1</text>
<text x="695.2" y="158.6" font-size="14" font-family='"Liberation Serif", serif' fill="#4a4a4a" stroke="#4a4a4a" stroke-width="0.3" textLength="8.6" lengthAdjust="spacingAndGlyphs" >+</text>
<text transform="translate(709.4,164.2) scale(1.6,3.1)" x="0" y="0" font-size="14" font-family='"Liberation Serif", serif' fill="#4a4a4a">(</text>
<text x="722.8" y="147.8" font-size="13" font-family='"Liberation Serif", serif' fill="#4a4a4a" stroke="#4a4a4a" stroke-width="0.3" font-style="italic" textLength="8.0" lengthAdjust="spacingAndGlyphs" >λ</text>
<text x="731.2" y="150.2" font-size="8.5" font-family='"Liberation Serif", serif' fill="#4a4a4a" stroke="#4a4a4a" stroke-width="0.3" textLength="5.0" lengthAdjust="spacingAndGlyphs" >0</text>
<text x="737.0" y="147.8" font-size="13" font-family='"Liberation Serif", serif' fill="#4a4a4a" stroke="#4a4a4a" stroke-width="0.3" font-style="italic" textLength="14.3" lengthAdjust="spacingAndGlyphs" >m</text>
<rect x="716.8" y="153.2" width="41.4" height="1.1" fill="#4a4a4a"/>
<text x="718.2" y="167.6" font-size="13" font-family='"Liberation Serif", serif' fill="#4a4a4a" stroke="#4a4a4a" stroke-width="0.3" font-style="italic" textLength="33.0" lengthAdjust="spacingAndGlyphs" >2πRn</text>
<text x="752.0" y="170.0" font-size="8.5" font-family='"Liberation Serif", serif' fill="#4a4a4a" stroke="#4a4a4a" stroke-width="0.3" textLength="5.6" lengthAdjust="spacingAndGlyphs" >0</text>
<text transform="translate(759.2,164.2) scale(1.6,3.1)" x="0" y="0" font-size="14" font-family='"Liberation Serif", serif' fill="#4a4a4a">)</text>
<text x="767.7" y="137.6" font-size="8.5" font-family='"Liberation Serif", serif' fill="#4a4a4a" stroke="#4a4a4a" stroke-width="0.3" textLength="4.0" lengthAdjust="spacingAndGlyphs" >2</text>
<text transform="translate(773.6,168.4) scale(1.25,3.95)" x="0" y="0" font-size="14" font-family='"Liberation Serif", serif' fill="#4a4a4a">]</text>
<text x="780.6" y="135.0" font-size="9.5" font-family='"Liberation Serif", serif' fill="#4a4a4a" stroke="#4a4a4a" stroke-width="0.3" textLength="5.4" lengthAdjust="spacingAndGlyphs" >−</text>
<text x="787.4" y="128.8" font-size="8" font-family='"Liberation Serif", serif' fill="#4a4a4a" stroke="#4a4a4a" stroke-width="0.3" textLength="4.2" lengthAdjust="spacingAndGlyphs" >1</text>
<rect x="786.8" y="130.4" width="5.4" height="0.9" fill="#4a4a4a"/>
<text x="787.4" y="139.0" font-size="8" font-family='"Liberation Serif", serif' fill="#4a4a4a" stroke="#4a4a4a" stroke-width="0.3" textLength="4.4" lengthAdjust="spacingAndGlyphs" >2</text>
<text transform="translate(793.0,166.9) scale(1.6,4.52)" x="0" y="0" font-size="14" font-family='"Liberation Serif", serif' fill="#4a4a4a">}</text>
</g></g>
<g id="torus"><g filter="url(#b1)" stroke-width="3.0" stroke-linecap="round" fill="none">
<path d="M637.3,240.1L636.8,238.0" stroke="#ffc800"/>
<path d="M637.7,242.3L637.3,240.1" stroke="#ff9100"/>
<path d="M636.8,238.0L636.2,236.0" stroke="#f4ff0b"/>
<path d="M611.8,240.2L611.0,238.2" stroke="#ffc800"/>
<path d="M612.6,242.4L611.8,240.2" stroke="#ff9100"/>
<path d="M611.0,238.2L610.2,236.2" stroke="#f4ff0b"/>
<path d="M638.1,244.5L637.7,242.3" stroke="#ff6200"/>
<path d="M613.5,244.5L612.6,242.4" stroke="#ff6200"/>
<path d="M636.2,236.0L635.6,234.2" stroke="#9aff65"/>
<path d="M610.2,236.2L609.5,234.5" stroke="#9aff65"/>
<path d="M614.5,246.6L613.5,244.5" stroke="#ff3c00"/>
<path d="M638.3,246.7L638.1,244.5" stroke="#ff3c00"/>
<path d="M635.6,234.2L634.9,232.6" stroke="#1affe5"/>
<path d="M609.5,234.5L609.0,232.9" stroke="#1affe5"/>
<path d="M615.4,248.6L614.5,246.6" stroke="#ff1c00"/>
<path d="M638.5,248.7L638.3,246.7" stroke="#ff1c00"/>
<path d="M634.9,232.6L634.2,231.2" stroke="#00cfff"/>
<path d="M609.0,232.9L608.5,231.6" stroke="#00cfff"/>
<path d="M662.0,242.4L661.9,240.3" stroke="#ffc800"/>
<path d="M616.3,250.5L615.4,248.6" stroke="#ff0400"/>
<path d="M661.9,240.3L661.5,238.2" stroke="#f4ff0b"/>
<path d="M662.0,244.6L662.0,242.4" stroke="#ff9100"/>
<path d="M638.6,250.7L638.5,248.7" stroke="#ff0400"/>
<path d="M634.2,231.2L633.4,230.1" stroke="#0094ff"/>
<path d="M661.5,238.2L660.9,236.4" stroke="#9aff65"/>
<path d="M588.4,244.8L587.2,242.8" stroke="#ff9100"/>
<path d="M661.8,246.9L662.0,244.6" stroke="#ff6200"/>
<path d="M587.2,242.8L586.1,240.8" stroke="#ffc800"/>
<path d="M589.8,246.9L588.4,244.8" stroke="#ff6200"/>
<path d="M586.1,240.8L585.3,239.0" stroke="#f4ff0b"/>
<path d="M608.5,231.6L608.1,230.6" stroke="#0094ff"/>
<path d="M591.4,248.8L589.8,246.9" stroke="#ff3c00"/>
<path d="M660.9,236.4L660.2,234.7" stroke="#1affe5"/>
<path d="M661.3,249.0L661.8,246.9" stroke="#ff3c00"/>
<path d="M617.2,252.2L616.3,250.5" stroke="#f20000"/>
<path d="M585.3,239.0L584.6,237.3" stroke="#9aff65"/>
<path d="M638.6,252.4L638.6,250.7" stroke="#f20000"/>
<path d="M593.0,250.7L591.4,248.8" stroke="#ff1c00"/>
<path d="M633.4,230.1L632.6,229.4" stroke="#0062ff"/>
<path d="M660.2,234.7L659.2,233.2" stroke="#00cfff"/>
<path d="M660.7,251.1L661.3,249.0" stroke="#ff1c00"/>
<path d="M584.6,237.3L584.2,235.8" stroke="#1affe5"/>
<path d="M608.1,230.6L607.9,229.9" stroke="#0062ff"/>
<path d="M594.7,252.5L593.0,250.7" stroke="#ff0400"/>
<path d="M618.1,253.7L617.2,252.2" stroke="#e90000"/>
<path d="M659.2,233.2L658.1,232.1" stroke="#0094ff"/>
<path d="M638.6,253.9L638.6,252.4" stroke="#e90000"/>
<path d="M660.0,253.0L660.7,251.1" stroke="#ff0400"/>
<path d="M632.6,229.4L631.9,229.0" stroke="#0037ff"/>
<path d="M584.2,235.8L584.0,234.5" stroke="#00cfff"/>
<path d="M596.4,254.1L594.7,252.5" stroke="#f20000"/>
<path d="M607.9,229.9L607.7,229.6" stroke="#0037ff"/>
<path d="M658.1,232.1L656.9,231.2" stroke="#0062ff"/>
<path d="M618.9,254.9L618.1,253.7" stroke="#e70000"/>
<path d="M659.1,254.7L660.0,253.0" stroke="#f20000"/>
<path d="M638.5,255.2L638.6,253.9" stroke="#e70000"/>
<path d="M584.0,234.5L584.1,233.5" stroke="#0094ff"/>
<path d="M631.9,229.0L631.1,228.9" stroke="#0015ff"/>
<path d="M598.2,255.4L596.4,254.1" stroke="#e90000"/>
<path d="M656.9,231.2L655.6,230.7" stroke="#0037ff"/>
<path d="M607.7,229.6L607.7,229.5" stroke="#0015ff"/>
<path d="M684.3,247.1L684.5,244.9" stroke="#ffc800"/>
<path d="M658.2,256.1L659.1,254.7" stroke="#e90000"/>
<path d="M684.5,244.9L684.4,242.8" stroke="#f4ff0b"/>
<path d="M683.8,249.2L684.3,247.1" stroke="#ff9100"/>
<path d="M619.7,255.8L618.9,254.9" stroke="#ec0000"/>
<path d="M584.1,233.5L584.4,232.8" stroke="#0062ff"/>
<path d="M684.4,242.8L683.9,240.9" stroke="#9aff65"/>
<path d="M683.0,251.4L683.8,249.2" stroke="#ff6200"/>
<path d="M638.4,256.1L638.5,255.2" stroke="#ec0000"/>
<path d="M599.8,256.5L598.2,255.4" stroke="#e70000"/>
<path d="M568.6,251.4L566.8,249.5" stroke="#ff6200"/>
<path d="M566.8,249.5L565.3,247.6" stroke="#ff9100"/>
<path d="M631.1,228.9L630.3,229.2" stroke="#0000f8"/>
<path d="M570.6,253.2L568.6,251.4" stroke="#ff3c00"/>
<path d="M565.3,247.6L564.0,245.8" stroke="#ffc800"/>
<path d="M683.9,240.9L683.1,239.1" stroke="#1affe5"/>
<path d="M681.9,253.5L683.0,251.4" stroke="#ff3c00"/>
<path d="M655.6,230.7L654.1,230.5" stroke="#0015ff"/>
<path d="M572.9,254.9L570.6,253.2" stroke="#ff1c00"/>
<path d="M564.0,245.8L563.1,244.0" stroke="#f4ff0b"/>
<path d="M657.2,257.3L658.2,256.1" stroke="#e70000"/>
<path d="M607.7,229.5L607.8,229.8" stroke="#0000f8"/>
<path d="M683.1,239.1L682.1,237.6" stroke="#00cfff"/>
<path d="M680.6,255.4L681.9,253.5" stroke="#ff1c00"/>
<path d="M584.4,232.8L584.9,232.4" stroke="#0037ff"/>
<path d="M620.4,256.4L619.7,255.8" stroke="#f90000"/>
<path d="M575.2,256.5L572.9,254.9" stroke="#ff0400"/>
<path d="M563.1,244.0L562.5,242.4" stroke="#9aff65"/>
<path d="M601.5,257.3L599.8,256.5" stroke="#ec0000"/>
<path d="M638.2,256.8L638.4,256.1" stroke="#f90000"/>
<path d="M630.3,229.2L629.6,229.8" stroke="#0000e4"/>
<path d="M682.1,237.6L680.7,236.3" stroke="#0094ff"/>
<path d="M679.1,257.2L680.6,255.4" stroke="#ff0400"/>
<path d="M654.1,230.5L652.6,230.7" stroke="#0000f8"/>
<path d="M577.6,257.8L575.2,256.5" stroke="#f20000"/>
<path d="M562.5,242.4L562.3,240.9" stroke="#1affe5"/>
<path d="M656.2,258.2L657.2,257.3" stroke="#ec0000"/>
<path d="M607.8,229.8L607.9,230.4" stroke="#0000e4"/>
<path d="M584.9,232.4L585.6,232.4" stroke="#0015ff"/>
<path d="M621.1,256.7L620.4,256.4" stroke="#ff0e00"/>
<path d="M680.7,236.3L679.1,235.3" stroke="#0062ff"/>
<path d="M603.0,257.8L601.5,257.3" stroke="#f90000"/>
<path d="M580.1,259.0L577.6,257.8" stroke="#e90000"/>
<path d="M677.4,258.8L679.1,257.2" stroke="#f20000"/>
<path d="M562.3,240.9L562.4,239.6" stroke="#00cfff"/>
<path d="M638.1,257.1L638.2,256.8" stroke="#ff0e00"/>
<path d="M629.6,229.8L628.9,230.7" stroke="#0000d8"/>
<path d="M652.6,230.7L651.1,231.2" stroke="#0000e4"/>
<path d="M679.1,235.3L677.2,234.7" stroke="#0037ff"/>
<path d="M655.2,258.8L656.2,258.2" stroke="#f90000"/>
<path d="M582.5,259.9L580.1,259.0" stroke="#e70000"/>
<path d="M607.9,230.4L608.1,231.4" stroke="#0000d8"/>
<path d="M585.6,232.4L586.4,232.6" stroke="#0000f8"/>
<path d="M675.6,260.1L677.4,258.8" stroke="#e90000"/>
<path d="M604.4,257.9L603.0,257.8" stroke="#ff0e00"/>
<path d="M562.4,239.6L562.9,238.6" stroke="#0094ff"/>
<path d="M621.7,256.6L621.1,256.7" stroke="#ff2900"/>
<path d="M638.0,257.0L638.1,257.1" stroke="#ff2900"/>
<path d="M628.9,230.7L628.3,231.9" stroke="#0000d2"/>
<path d="M651.1,231.2L649.5,232.0" stroke="#0000d8"/>
<path d="M677.2,234.7L675.2,234.3" stroke="#0015ff"/>
<path d="M584.9,260.5L582.5,259.9" stroke="#ec0000"/>
<path d="M673.7,261.2L675.6,260.1" stroke="#e70000"/>
<path d="M654.3,259.0L655.2,258.8" stroke="#ff0e00"/>
<path d="M562.9,238.6L563.7,237.9" stroke="#0062ff"/>
<path d="M608.1,231.4L608.4,232.6" stroke="#0000d2"/>
<path d="M605.7,257.8L604.4,257.9" stroke="#ff2900"/>
<path d="M586.4,232.6L587.4,233.2" stroke="#0000e4"/>
<path d="M622.3,256.2L621.7,256.6" stroke="#ff4c00"/>
<path d="M675.2,234.3L673.0,234.3" stroke="#0000f8"/>
<path d="M637.9,256.6L638.0,257.0" stroke="#ff4c00"/>
<path d="M649.5,232.0L648.0,233.1" stroke="#0000d2"/>
<path d="M628.3,231.9L627.7,233.4" stroke="#0000d4"/>
<path d="M587.1,260.8L584.9,260.5" stroke="#f90000"/>
<path d="M671.9,262.0L673.7,261.2" stroke="#ec0000"/>
<path d="M563.7,237.9L564.8,237.4" stroke="#0037ff"/>
<path d="M653.4,258.9L654.3,259.0" stroke="#ff2900"/>
<path d="M702.6,253.6L703.1,251.5" stroke="#ffc800"/>
<path d="M606.9,257.3L605.7,257.8" stroke="#ff4c00"/>
<path d="M701.7,255.8L702.6,253.6" stroke="#ff9100"/>
<path d="M622.8,255.5L622.3,256.2" stroke="#ff7600"/>
<path d="M608.4,232.6L608.7,234.1" stroke="#0000d4"/>
<path d="M703.1,251.5L703.2,249.5" stroke="#f4ff0b"/>
<path d="M587.4,233.2L588.5,234.1" stroke="#0000d8"/>
<path d="M700.3,257.8L701.7,255.8" stroke="#ff6200"/>
<path d="M703.2,249.5L702.9,247.5" stroke="#9aff65"/>
<path d="M673.0,234.3L670.8,234.6" stroke="#0000e4"/>
<path d="M553.7,259.4L551.3,257.8" stroke="#ff3c00"/>
<path d="M551.3,257.8L549.2,256.1" stroke="#ff6200"/>
<path d="M589.2,260.8L587.1,260.8" stroke="#ff0e00"/>
<path d="M556.3,260.9L553.7,259.4" stroke="#ff1c00"/>
<path d="M648.0,233.1L646.5,234.5" stroke="#0000d4"/>
<path d="M627.7,233.4L627.2,235.1" stroke="#0000de"/>
<path d="M637.9,255.9L637.9,256.6" stroke="#ff7600"/>
<path d="M698.7,259.8L700.3,257.8" stroke="#ff3c00"/>
<path d="M549.2,256.1L547.4,254.4" stroke="#ff9100"/>
<path d="M702.9,247.5L702.2,245.7" stroke="#1affe5"/>
<path d="M559.1,262.2L556.3,260.9" stroke="#ff0400"/>
<path d="M670.1,262.4L671.9,262.0" stroke="#f90000"/>
<path d="M547.4,254.4L546.1,252.7" stroke="#ffc800"/>
<path d="M696.7,261.6L698.7,259.8" stroke="#ff1c00"/>
<path d="M564.8,237.4L566.1,237.2" stroke="#0015ff"/>
<path d="M607.8,256.5L606.9,257.3" stroke="#ff7600"/>
<path d="M623.2,254.4L622.8,255.5" stroke="#ffa800"/>
<path d="M702.2,245.7L701.0,244.0" stroke="#00cfff"/>
<path d="M562.1,263.3L559.1,262.2" stroke="#f20000"/>
<path d="M652.7,258.5L653.4,258.9" stroke="#ff4c00"/>
<path d="M608.7,234.1L609.1,235.9" stroke="#0000de"/>
<path d="M546.1,252.7L545.2,251.0" stroke="#f4ff0b"/>
<path d="M588.5,234.1L589.7,235.2" stroke="#0000d2"/>
<path d="M670.8,234.6L668.5,235.2" stroke="#0000d8"/>
<path d="M627.2,235.1L626.7,237.0" stroke="#0000ef"/>
<path d="M591.1,260.5L589.2,260.8" stroke="#ff2900"/>
<path d="M646.5,234.5L645.2,236.1" stroke="#0000de"/>
<path d="M694.5,263.2L696.7,261.6" stroke="#ff0400"/>
<path d="M637.9,254.9L637.9,255.9" stroke="#ffa800"/>
<path d="M565.1,264.2L562.1,263.3" stroke="#e90000"/>
<path d="M701.0,244.0L699.5,242.6" stroke="#0094ff"/>
<path d="M545.2,251.0L544.7,249.4" stroke="#9aff65"/>
<path d="M623.6,253.1L623.2,254.4" stroke="#ffe400"/>
<path d="M668.5,262.5L670.1,262.4" stroke="#ff0e00"/>
<path d="M608.7,255.4L607.8,256.5" stroke="#ffa800"/>
<path d="M566.1,237.2L567.8,237.4" stroke="#0000f8"/>
<path d="M609.1,235.9L609.4,237.8" stroke="#0000ef"/>
<path d="M692.1,264.6L694.5,263.2" stroke="#f20000"/>
<path d="M568.2,264.8L565.1,264.2" stroke="#e70000"/>
<path d="M652.2,257.8L652.7,258.5" stroke="#ff7600"/>
<path d="M626.7,237.0L626.2,239.1" stroke="#0008ff"/>
<path d="M699.5,242.6L697.6,241.4" stroke="#0062ff"/>
<path d="M668.5,235.2L666.2,236.2" stroke="#0000d2"/>
<path d="M645.2,236.1L643.9,238.0" stroke="#0000ef"/>
<path d="M638.1,253.6L637.9,254.9" stroke="#ffe400"/>
<path d="M592.8,259.8L591.1,260.5" stroke="#ff4c00"/>
<path d="M589.7,235.2L590.9,236.7" stroke="#0000d4"/>
<path d="M544.7,249.4L544.7,247.9" stroke="#1affe5"/>
<path d="M624.0,251.5L623.6,253.1" stroke="#d1ff2e"/>
<path d="M609.3,254.0L608.7,255.4" stroke="#ffe400"/>
<path d="M626.2,239.1L625.8,241.2" stroke="#0027ff"/>
<path d="M689.6,265.7L692.1,264.6" stroke="#e90000"/>
<path d="M571.1,265.1L568.2,264.8" stroke="#ec0000"/>
<path d="M609.4,237.8L609.7,239.9" stroke="#0008ff"/>
<path d="M697.6,241.4L695.4,240.6" stroke="#0037ff"/>
<path d="M643.9,238.0L642.7,239.9" stroke="#0008ff"/>
<path d="M667.0,262.3L668.5,262.5" stroke="#ff2900"/>
<path d="M638.3,252.0L638.1,253.6" stroke="#d1ff2e"/>
<path d="M624.4,249.7L624.0,251.5" stroke="#50ffaf"/>
<path d="M666.2,236.2L664.0,237.4" stroke="#0000d4"/>
<path d="M651.8,256.7L652.2,257.8" stroke="#ffa800"/>
<path d="M567.8,237.4L569.6,237.8" stroke="#0000e4"/>
<path d="M625.8,241.2L625.4,243.4" stroke="#004eff"/>
<path d="M594.2,258.9L592.8,259.8" stroke="#ff7600"/>
<path d="M544.7,247.9L545.1,246.7" stroke="#00cfff"/>
<path d="M609.8,252.3L609.3,254.0" stroke="#d1ff2e"/>
<path d="M590.9,236.7L592.1,238.3" stroke="#0000de"/>
<path d="M624.7,247.7L624.4,249.7" stroke="#00f6ff"/>
<path d="M609.7,239.9L610.0,242.0" stroke="#0027ff"/>
<path d="M625.4,243.4L625.1,245.6" stroke="#007dff"/>
<path d="M642.7,239.9L641.6,242.0" stroke="#0027ff"/>
<path d="M573.9,265.2L571.1,265.1" stroke="#f90000"/>
<path d="M625.1,245.6L624.7,247.7" stroke="#00b4ff"/>
<path d="M638.7,250.2L638.3,252.0" stroke="#50ffaf"/>
<path d="M687.0,266.5L689.6,265.7" stroke="#e70000"/>
<path d="M695.4,240.6L692.9,240.0" stroke="#0015ff"/>
<path d="M610.1,250.5L609.8,252.3" stroke="#50ffaf"/>
<path d="M641.6,242.0L640.7,244.1" stroke="#004eff"/>
<path d="M664.0,237.4L661.8,238.8" stroke="#0000de"/>
<path d="M610.0,242.0L610.2,244.2" stroke="#004eff"/>
<path d="M639.2,248.3L638.7,250.2" stroke="#00f6ff"/>
<path d="M651.7,255.4L651.8,256.7" stroke="#ffe400"/>
<path d="M665.7,261.8L667.0,262.3" stroke="#ff4c00"/>
<path d="M595.3,257.7L594.2,258.9" stroke="#ffa800"/>
<path d="M640.7,244.1L639.9,246.2" stroke="#007dff"/>
<path d="M639.9,246.2L639.2,248.3" stroke="#00b4ff"/>
<path d="M545.1,246.7L545.9,245.6" stroke="#0094ff"/>
<path d="M610.2,248.5L610.1,250.5" stroke="#00f6ff"/>
<path d="M610.2,244.2L610.3,246.4" stroke="#007dff"/>
<path d="M569.6,237.8L571.5,238.5" stroke="#0000d8"/>
<path d="M592.1,238.3L593.3,240.2" stroke="#0000ef"/>
<path d="M610.3,246.4L610.2,248.5" stroke="#00b4ff"/>
<path d="M576.5,265.0L573.9,265.2" stroke="#ff0e00"/>
<path d="M692.9,240.0L690.3,239.7" stroke="#0000f8"/>
<path d="M684.5,267.1L687.0,266.5" stroke="#ec0000"/>
<path d="M661.8,238.8L659.8,240.5" stroke="#0000ef"/>
<path d="M651.8,253.9L651.7,255.4" stroke="#d1ff2e"/>
<path d="M596.1,256.2L595.3,257.7" stroke="#ffe400"/>
<path d="M593.3,240.2L594.4,242.2" stroke="#0008ff"/>
<path d="M545.9,245.6L547.2,244.7" stroke="#0062ff"/>
<path d="M664.7,260.9L665.7,261.8" stroke="#ff7600"/>
<path d="M578.9,264.4L576.5,265.0" stroke="#ff2900"/>
<path d="M690.3,239.7L687.5,239.8" stroke="#0000e4"/>
<path d="M659.8,240.5L658.0,242.3" stroke="#0008ff"/>
<path d="M571.5,238.5L573.5,239.5" stroke="#0000d2"/>
<path d="M652.2,252.1L651.8,253.9" stroke="#50ffaf"/>
<path d="M682.1,267.3L684.5,267.1" stroke="#f90000"/>
<path d="M596.6,254.5L596.1,256.2" stroke="#d1ff2e"/>
<path d="M594.4,242.2L595.3,244.3" stroke="#0027ff"/>
<path d="M658.0,242.3L656.3,244.3" stroke="#0027ff"/>
<path d="M652.8,250.3L652.2,252.1" stroke="#00f6ff"/>
<path d="M596.9,252.7L596.6,254.5" stroke="#50ffaf"/>
<path d="M580.9,263.6L578.9,264.4" stroke="#ff4c00"/>
<path d="M656.3,244.3L654.9,246.3" stroke="#004eff"/>
<path d="M687.5,239.8L684.6,240.2" stroke="#0000d8"/>
<path d="M653.8,248.3L652.8,250.3" stroke="#00b4ff"/>
<path d="M595.3,244.3L596.0,246.4" stroke="#004eff"/>
<path d="M547.2,244.7L548.8,244.1" stroke="#0037ff"/>
<path d="M664.0,259.8L664.7,260.9" stroke="#ffa800"/>
<path d="M654.9,246.3L653.8,248.3" stroke="#007dff"/>
<path d="M596.8,250.7L596.9,252.7" stroke="#00f6ff"/>
<path d="M596.0,246.4L596.6,248.6" stroke="#007dff"/>
<path d="M573.5,239.5L575.5,240.8" stroke="#0000d4"/>
<path d="M596.6,248.6L596.8,250.7" stroke="#00b4ff"/>
<path d="M679.8,267.2L682.1,267.3" stroke="#ff0e00"/>
<path d="M684.6,240.2L681.7,240.9" stroke="#0000d2"/>
<path d="M582.6,262.5L580.9,263.6" stroke="#ff7600"/>
<path d="M663.6,258.5L664.0,259.8" stroke="#ffe400"/>
<path d="M548.8,244.1L550.8,243.8" stroke="#0015ff"/>
<path d="M575.5,240.8L577.5,242.3" stroke="#0000de"/>
<path d="M677.7,266.8L679.8,267.2" stroke="#ff2900"/>
<path d="M547.6,269.2L544.5,268.2" stroke="#ff0400"/>
<path d="M544.5,268.2L541.6,267.0" stroke="#ff1c00"/>
<path d="M681.7,240.9L678.8,241.8" stroke="#0000d4"/>
<path d="M550.9,270.0L547.6,269.2" stroke="#f20000"/>
<path d="M714.3,263.8L715.7,261.8" stroke="#ff9100"/>
<path d="M584.0,261.2L582.6,262.5" stroke="#ffa800"/>
<path d="M541.6,267.0L539.0,265.7" stroke="#ff3c00"/>
<path d="M715.7,261.8L716.5,259.7" stroke="#ffc800"/>
<path d="M712.6,265.7L714.3,263.8" stroke="#ff6200"/>
<path d="M716.5,259.7L716.8,257.7" stroke="#f4ff0b"/>
<path d="M710.5,267.4L712.6,265.7" stroke="#ff3c00"/>
<path d="M554.3,270.6L550.9,270.0" stroke="#e90000"/>
<path d="M663.5,257.0L663.6,258.5" stroke="#d1ff2e"/>
<path d="M539.0,265.7L536.8,264.2" stroke="#ff6200"/>
<path d="M716.8,257.7L716.7,255.7" stroke="#9aff65"/>
<path d="M708.0,269.0L710.5,267.4" stroke="#ff1c00"/>
<path d="M577.5,242.3L579.4,244.0" stroke="#0000ef"/>
<path d="M557.7,270.9L554.3,270.6" stroke="#e70000"/>
<path d="M678.8,241.8L676.0,243.0" stroke="#0000de"/>
<path d="M550.8,243.8L553.1,243.7" stroke="#0000f8"/>
<path d="M536.8,264.2L535.0,262.6" stroke="#ff9100"/>
<path d="M584.9,259.7L584.0,261.2" stroke="#ffe400"/>
<path d="M716.7,255.7L716.0,253.8" stroke="#1affe5"/>
<path d="M705.2,270.4L708.0,269.0" stroke="#ff0400"/>
<path d="M675.9,266.2L677.7,266.8" stroke="#ff4c00"/>
<path d="M663.9,255.3L663.5,257.0" stroke="#50ffaf"/>
<path d="M561.0,271.0L557.7,270.9" stroke="#ec0000"/>
<path d="M676.0,243.0L673.4,244.5" stroke="#0000ef"/>
<path d="M716.0,253.8L714.9,252.0" stroke="#00cfff"/>
<path d="M535.0,262.6L533.6,261.0" stroke="#ffc800"/>
<path d="M579.4,244.0L581.1,245.9" stroke="#0008ff"/>
<path d="M585.5,257.9L584.9,259.7" stroke="#d1ff2e"/>
<path d="M702.3,271.5L705.2,270.4" stroke="#f20000"/>
<path d="M664.6,253.5L663.9,255.3" stroke="#00f6ff"/>
<path d="M564.2,270.7L561.0,271.0" stroke="#f90000"/>
<path d="M673.4,244.5L671.1,246.1" stroke="#0008ff"/>
<path d="M714.9,252.0L713.3,250.4" stroke="#0094ff"/>
<path d="M553.1,243.7L555.5,244.0" stroke="#0000e4"/>
<path d="M581.1,245.9L582.6,247.9" stroke="#0027ff"/>
<path d="M665.7,251.6L664.6,253.5" stroke="#00b4ff"/>
<path d="M585.7,256.0L585.5,257.9" stroke="#50ffaf"/>
<path d="M533.6,261.0L532.8,259.5" stroke="#f4ff0b"/>
<path d="M671.1,246.1L669.0,247.9" stroke="#0027ff"/>
<path d="M699.2,272.4L702.3,271.5" stroke="#e90000"/>
<path d="M674.5,265.2L675.9,266.2" stroke="#ff7600"/>
<path d="M667.2,249.7L665.7,251.6" stroke="#007dff"/>
<path d="M669.0,247.9L667.2,249.7" stroke="#004eff"/>
<path d="M582.6,247.9L583.9,249.9" stroke="#004eff"/>
<path d="M585.4,254.0L585.7,256.0" stroke="#00f6ff"/>
<path d="M567.1,270.2L564.2,270.7" stroke="#ff0e00"/>
<path d="M713.3,250.4L711.2,249.1" stroke="#0062ff"/>
<path d="M583.9,249.9L584.8,252.0" stroke="#007dff"/>
<path d="M584.8,252.0L585.4,254.0" stroke="#00b4ff"/>
<path d="M532.8,259.5L532.4,257.9" stroke="#9aff65"/>
<path d="M696.1,272.9L699.2,272.4" stroke="#e70000"/>
<path d="M711.2,249.1L708.8,248.0" stroke="#0037ff"/>
<path d="M555.5,244.0L558.1,244.5" stroke="#0000d8"/>
<path d="M569.8,269.4L567.1,270.2" stroke="#ff2900"/>
<path d="M673.5,264.0L674.5,265.2" stroke="#ffa800"/>
<path d="M693.1,273.2L696.1,272.9" stroke="#ec0000"/>
<path d="M532.4,257.9L532.6,256.4" stroke="#1affe5"/>
<path d="M708.8,248.0L706.1,247.2" stroke="#0015ff"/>
<path d="M572.1,268.4L569.8,269.4" stroke="#ff4c00"/>
<path d="M558.1,244.5L560.8,245.3" stroke="#0000d2"/>
<path d="M672.9,262.6L673.5,264.0" stroke="#ffe400"/>
<path d="M706.1,247.2L703.1,246.6" stroke="#0000f8"/>
<path d="M690.1,273.2L693.1,273.2" stroke="#f90000"/>
<path d="M574.0,267.2L572.1,268.4" stroke="#ff7600"/>
<path d="M532.6,256.4L533.3,255.1" stroke="#00cfff"/>
<path d="M703.1,246.6L699.9,246.4" stroke="#0000e4"/>
<path d="M672.7,261.1L672.9,262.6" stroke="#d1ff2e"/>
<path d="M560.8,245.3L563.5,246.3" stroke="#0000d4"/>
<path d="M575.5,265.7L574.0,267.2" stroke="#ffa800"/>
<path d="M687.4,272.8L690.1,273.2" stroke="#ff0e00"/>
<path d="M533.3,255.1L534.5,253.9" stroke="#0094ff"/>
<path d="M699.9,246.4L696.6,246.5" stroke="#0000d8"/>
<path d="M673.0,259.4L672.7,261.1" stroke="#50ffaf"/>
<path d="M563.5,246.3L566.1,247.6" stroke="#0000de"/>
<path d="M576.6,264.0L575.5,265.7" stroke="#ffe400"/>
<path d="M696.6,246.5L693.3,246.9" stroke="#0000d2"/>
<path d="M684.9,272.2L687.4,272.8" stroke="#ff2900"/>
<path d="M673.7,257.7L673.0,259.4" stroke="#00f6ff"/>
<path d="M577.1,262.3L576.6,264.0" stroke="#d1ff2e"/>
<path d="M566.1,247.6L568.6,249.1" stroke="#0000ef"/>
<path d="M534.5,253.9L536.1,252.9" stroke="#0062ff"/>
<path d="M693.3,246.9L690.0,247.5" stroke="#0000d4"/>
<path d="M675.0,255.9L673.7,257.7" stroke="#00b4ff"/>
<path d="M577.2,260.4L577.1,262.3" stroke="#50ffaf"/>
<path d="M568.6,249.1L570.9,250.7" stroke="#0008ff"/>
<path d="M690.0,247.5L686.8,248.5" stroke="#0000de"/>
<path d="M682.8,271.4L684.9,272.2" stroke="#ff4c00"/>
<path d="M676.6,254.2L675.0,255.9" stroke="#007dff"/>
<path d="M576.8,258.4L577.2,260.4" stroke="#00f6ff"/>
<path d="M686.8,248.5L683.8,249.6" stroke="#0000ef"/>
<path d="M570.9,250.7L572.9,252.5" stroke="#0027ff"/>
<path d="M678.7,252.5L676.6,254.2" stroke="#004eff"/>
<path d="M683.8,249.6L681.1,251.0" stroke="#0008ff"/>
<path d="M681.1,251.0L678.7,252.5" stroke="#0027ff"/>
<path d="M575.9,256.4L576.8,258.4" stroke="#00b4ff"/>
<path d="M536.1,252.9L538.1,252.1" stroke="#0037ff"/>
<path d="M572.9,252.5L574.6,254.4" stroke="#004eff"/>
<path d="M574.6,254.4L575.9,256.4" stroke="#007dff"/>
<path d="M681.0,270.3L682.8,271.4" stroke="#ff7600"/>
<path d="M538.1,252.1L540.6,251.6" stroke="#0015ff"/>
<path d="M551.9,277.8L548.4,277.9" stroke="#e70000"/>
<path d="M548.4,277.9L544.9,277.6" stroke="#e90000"/>
<path d="M555.4,277.5L551.9,277.8" stroke="#ec0000"/>
<path d="M544.9,277.6L541.5,277.2" stroke="#f20000"/>
<path d="M679.8,269.0L681.0,270.3" stroke="#ffa800"/>
<path d="M558.7,277.0L555.4,277.5" stroke="#f90000"/>
<path d="M541.5,277.2L538.2,276.4" stroke="#ff0400"/>
<path d="M561.8,276.2L558.7,277.0" stroke="#ff0e00"/>
<path d="M538.2,276.4L535.3,275.5" stroke="#ff1c00"/>
<path d="M540.6,251.6L543.3,251.3" stroke="#0000f8"/>
<path d="M678.9,267.5L679.8,269.0" stroke="#ffe400"/>
<path d="M564.6,275.2L561.8,276.2" stroke="#ff2900"/>
<path d="M535.3,275.5L532.7,274.4" stroke="#ff3c00"/>
<path d="M716.5,276.0L718.9,274.4" stroke="#ff3c00"/>
<path d="M713.7,277.3L716.5,276.0" stroke="#ff1c00"/>
<path d="M567.0,273.9L564.6,275.2" stroke="#ff4c00"/>
<path d="M718.9,274.4L721.0,272.7" stroke="#ff6200"/>
<path d="M710.6,278.4L713.7,277.3" stroke="#ff0400"/>
<path d="M721.0,272.7L722.6,270.9" stroke="#ff9100"/>
<path d="M543.3,251.3L546.3,251.3" stroke="#0000e4"/>
<path d="M707.3,279.2L710.6,278.4" stroke="#f20000"/>
<path d="M532.7,274.4L530.4,273.2" stroke="#ff6200"/>
<path d="M722.6,270.9L723.7,268.9" stroke="#ffc800"/>
<path d="M678.6,266.0L678.9,267.5" stroke="#d1ff2e"/>
<path d="M569.0,272.4L567.0,273.9" stroke="#ff7600"/>
<path d="M703.9,279.7L707.3,279.2" stroke="#e90000"/>
<path d="M723.7,268.9L724.2,266.9" stroke="#f4ff0b"/>
<path d="M724.2,266.9L724.2,264.9" stroke="#9aff65"/>
<path d="M700.5,280.0L703.9,279.7" stroke="#e70000"/>
<path d="M530.4,273.2L528.7,271.8" stroke="#ff9100"/>
<path d="M570.5,270.8L569.0,272.4" stroke="#ffa800"/>
<path d="M546.3,251.3L549.4,251.5" stroke="#0000d8"/>
<path d="M678.9,264.3L678.6,266.0" stroke="#50ffaf"/>
<path d="M724.2,264.9L723.7,262.9" stroke="#1affe5"/>
<path d="M697.1,279.9L700.5,280.0" stroke="#ec0000"/>
<path d="M571.5,269.1L570.5,270.8" stroke="#ffe400"/>
<path d="M723.7,262.9L722.7,261.1" stroke="#00cfff"/>
<path d="M528.7,271.8L527.4,270.3" stroke="#ffc800"/>
<path d="M549.4,251.5L552.6,252.0" stroke="#0000d2"/>
<path d="M693.8,279.6L697.1,279.9" stroke="#f90000"/>
<path d="M679.6,262.7L678.9,264.3" stroke="#00f6ff"/>
<path d="M722.7,261.1L721.1,259.3" stroke="#0094ff"/>
<path d="M572.0,267.3L571.5,269.1" stroke="#d1ff2e"/>
<path d="M721.1,259.3L719.0,257.8" stroke="#0062ff"/>
<path d="M690.8,279.0L693.8,279.6" stroke="#ff0e00"/>
<path d="M552.6,252.0L555.8,252.7" stroke="#0000d4"/>
<path d="M680.9,261.0L679.6,262.7" stroke="#00b4ff"/>
<path d="M572.0,265.4L572.0,267.3" stroke="#50ffaf"/>
<path d="M527.4,270.3L526.7,268.8" stroke="#f4ff0b"/>
<path d="M719.0,257.8L716.6,256.5" stroke="#0037ff"/>
<path d="M555.8,252.7L558.9,253.7" stroke="#0000de"/>
<path d="M571.4,263.4L572.0,265.4" stroke="#00f6ff"/>
<path d="M688.1,278.1L690.8,279.0" stroke="#ff2900"/>
<path d="M682.6,259.4L680.9,261.0" stroke="#007dff"/>
<path d="M716.6,256.5L713.8,255.4" stroke="#0015ff"/>
<path d="M570.4,261.5L571.4,263.4" stroke="#00b4ff"/>
<path d="M558.9,253.7L561.8,255.0" stroke="#0000ef"/>
<path d="M526.7,268.8L526.5,267.3" stroke="#9aff65"/>
<path d="M713.8,255.4L710.6,254.5" stroke="#0000f8"/>
<path d="M684.8,258.0L682.6,259.4" stroke="#004eff"/>
<path d="M568.8,259.7L570.4,261.5" stroke="#007dff"/>
<path d="M561.8,255.0L564.5,256.4" stroke="#0008ff"/>
<path d="M685.7,277.1L688.1,278.1" stroke="#ff4c00"/>
<path d="M566.8,258.0L568.8,259.7" stroke="#004eff"/>
<path d="M564.5,256.4L566.8,258.0" stroke="#0027ff"/>
<path d="M710.6,254.5L707.3,254.0" stroke="#0000e4"/>
<path d="M687.4,256.7L684.8,258.0" stroke="#0027ff"/>
<path d="M707.3,254.0L703.8,253.7" stroke="#0000d8"/>
<path d="M690.3,255.6L687.4,256.7" stroke="#0008ff"/>
<path d="M703.8,253.7L700.3,253.8" stroke="#0000d2"/>
<path d="M693.5,254.7L690.3,255.6" stroke="#0000ef"/>
<path d="M700.3,253.8L696.8,254.1" stroke="#0000d4"/>
<path d="M526.5,267.3L526.9,265.8" stroke="#1affe5"/>
<path d="M696.8,254.1L693.5,254.7" stroke="#0000de"/>
<path d="M683.8,275.8L685.7,277.1" stroke="#ff7600"/>
<path d="M682.4,274.4L683.8,275.8" stroke="#ffa800"/>
<path d="M526.9,265.8L527.8,264.4" stroke="#00cfff"/>
<path d="M681.4,272.8L682.4,274.4" stroke="#ffe400"/>
<path d="M527.8,264.4L529.2,263.1" stroke="#0094ff"/>
<path d="M681.0,271.2L681.4,272.8" stroke="#d1ff2e"/>
<path d="M560.8,282.5L557.8,283.6" stroke="#ff0e00"/>
<path d="M557.8,283.6L554.5,284.4" stroke="#f90000"/>
<path d="M563.5,281.2L560.8,282.5" stroke="#ff2900"/>
<path d="M554.5,284.4L551.1,285.1" stroke="#ec0000"/>
<path d="M565.9,279.7L563.5,281.2" stroke="#ff4c00"/>
<path d="M529.2,263.1L531.1,261.9" stroke="#0062ff"/>
<path d="M567.8,278.0L565.9,279.7" stroke="#ff7600"/>
<path d="M551.1,285.1L547.7,285.4" stroke="#e70000"/>
<path d="M681.1,269.6L681.0,271.2" stroke="#50ffaf"/>
<path d="M569.2,276.3L567.8,278.0" stroke="#ffa800"/>
<path d="M547.7,285.4L544.3,285.5" stroke="#e90000"/>
<path d="M531.1,261.9L533.4,260.9" stroke="#0037ff"/>
<path d="M570.2,274.4L569.2,276.3" stroke="#ffe400"/>
<path d="M681.8,268.0L681.1,269.6" stroke="#00f6ff"/>
<path d="M544.3,285.5L541.0,285.4" stroke="#f20000"/>
<path d="M570.6,272.6L570.2,274.4" stroke="#d1ff2e"/>
<path d="M533.4,260.9L536.2,260.1" stroke="#0015ff"/>
<path d="M541.0,285.4L537.9,285.0" stroke="#ff0400"/>
<path d="M570.5,270.7L570.6,272.6" stroke="#50ffaf"/>
<path d="M683.0,266.5L681.8,268.0" stroke="#00b4ff"/>
<path d="M536.2,260.1L539.2,259.5" stroke="#0000f8"/>
<path d="M569.8,268.8L570.5,270.7" stroke="#00f6ff"/>
<path d="M537.9,285.0L535.1,284.4" stroke="#ff1c00"/>
<path d="M684.7,265.1L683.0,266.5" stroke="#007dff"/>
<path d="M699.7,287.2L703.2,287.3" stroke="#e70000"/>
<path d="M696.2,286.8L699.7,287.2" stroke="#ec0000"/>
<path d="M568.6,267.0L569.8,268.8" stroke="#00b4ff"/>
<path d="M703.2,287.3L706.7,287.1" stroke="#e90000"/>
<path d="M692.9,286.2L696.2,286.8" stroke="#f90000"/>
<path d="M539.2,259.5L542.4,259.2" stroke="#0000e4"/>
<path d="M706.7,287.1L710.1,286.6" stroke="#f20000"/>
<path d="M689.8,285.3L692.9,286.2" stroke="#ff0e00"/>
<path d="M710.1,286.6L713.4,285.8" stroke="#ff0400"/>
<path d="M566.9,265.4L568.6,267.0" stroke="#007dff"/>
<path d="M687.0,284.2L689.8,285.3" stroke="#ff2900"/>
<path d="M713.4,285.8L716.3,284.8" stroke="#ff1c00"/>
<path d="M542.4,259.2L545.8,259.1" stroke="#0000d8"/>
<path d="M686.9,263.8L684.7,265.1" stroke="#004eff"/>
<path d="M535.1,284.4L532.7,283.5" stroke="#ff3c00"/>
<path d="M564.7,263.8L566.9,265.4" stroke="#004eff"/>
<path d="M716.3,284.8L718.9,283.5" stroke="#ff3c00"/>
<path d="M545.8,259.1L549.3,259.3" stroke="#0000d2"/>
<path d="M684.6,282.9L687.0,284.2" stroke="#ff4c00"/>
<path d="M562.2,262.5L564.7,263.8" stroke="#0027ff"/>
<path d="M718.9,283.5L721.2,282.0" stroke="#ff6200"/>
<path d="M549.3,259.3L552.8,259.7" stroke="#0000d4"/>
<path d="M689.4,262.8L686.9,263.8" stroke="#0027ff"/>
<path d="M559.3,261.3L562.2,262.5" stroke="#0008ff"/>
<path d="M552.8,259.7L556.1,260.4" stroke="#0000de"/>
<path d="M556.1,260.4L559.3,261.3" stroke="#0000ef"/>
<path d="M682.6,281.4L684.6,282.9" stroke="#ff7600"/>
<path d="M532.7,283.5L530.6,282.5" stroke="#ff6200"/>
<path d="M721.2,282.0L722.9,280.3" stroke="#ff9100"/>
<path d="M692.3,262.0L689.4,262.8" stroke="#0008ff"/>
<path d="M722.9,280.3L724.2,278.5" stroke="#ffc800"/>
<path d="M681.1,279.8L682.6,281.4" stroke="#ffa800"/>
<path d="M724.2,278.5L724.9,276.5" stroke="#f4ff0b"/>
<path d="M695.5,261.4L692.3,262.0" stroke="#0000ef"/>
<path d="M530.6,282.5L529.0,281.2" stroke="#ff9100"/>
<path d="M680.1,278.2L681.1,279.8" stroke="#ffe400"/>
<path d="M724.9,276.5L725.1,274.5" stroke="#9aff65"/>
<path d="M698.8,261.1L695.5,261.4" stroke="#0000de"/>
<path d="M725.1,274.5L724.7,272.5" stroke="#1affe5"/>
<path d="M702.3,261.1L698.8,261.1" stroke="#0000d4"/>
<path d="M724.7,272.5L723.8,270.6" stroke="#00cfff"/>
<path d="M679.6,276.5L680.1,278.2" stroke="#d1ff2e"/>
<path d="M529.0,281.2L527.9,279.9" stroke="#ffc800"/>
<path d="M705.8,261.4L702.3,261.1" stroke="#0000d2"/>
<path d="M723.8,270.6L722.4,268.7" stroke="#0094ff"/>
<path d="M722.4,268.7L720.5,267.0" stroke="#0062ff"/>
<path d="M709.2,262.0L705.8,261.4" stroke="#0000d8"/>
<path d="M720.5,267.0L718.2,265.4" stroke="#0037ff"/>
<path d="M712.4,262.9L709.2,262.0" stroke="#0000e4"/>
<path d="M718.2,265.4L715.4,264.0" stroke="#0015ff"/>
<path d="M715.4,264.0L712.4,262.9" stroke="#0000f8"/>
<path d="M679.6,274.9L679.6,276.5" stroke="#50ffaf"/>
<path d="M568.8,285.4L566.7,287.1" stroke="#ff4c00"/>
<path d="M570.6,283.6L568.8,285.4" stroke="#ff7600"/>
<path d="M527.9,279.9L527.4,278.4" stroke="#f4ff0b"/>
<path d="M566.7,287.1L564.2,288.6" stroke="#ff2900"/>
<path d="M571.8,281.7L570.6,283.6" stroke="#ffa800"/>
<path d="M564.2,288.6L561.5,290.0" stroke="#ff0e00"/>
<path d="M572.7,279.7L571.8,281.7" stroke="#ffe400"/>
<path d="M680.2,273.4L679.6,274.9" stroke="#00f6ff"/>
<path d="M573.0,277.8L572.7,279.7" stroke="#d1ff2e"/>
<path d="M561.5,290.0L558.5,291.2" stroke="#f90000"/>
<path d="M527.4,278.4L527.4,276.9" stroke="#9aff65"/>
<path d="M572.7,275.9L573.0,277.8" stroke="#50ffaf"/>
<path d="M558.5,291.2L555.5,292.1" stroke="#ec0000"/>
<path d="M681.2,272.0L680.2,273.4" stroke="#00b4ff"/>
<path d="M572.0,274.2L572.7,275.9" stroke="#00f6ff"/>
<path d="M527.4,276.9L527.9,275.4" stroke="#1affe5"/>
<path d="M555.5,292.1L552.4,292.8" stroke="#e70000"/>
<path d="M570.7,272.5L572.0,274.2" stroke="#00b4ff"/>
<path d="M682.8,270.7L681.2,272.0" stroke="#007dff"/>
<path d="M527.9,275.4L528.9,273.9" stroke="#00cfff"/>
<path d="M552.4,292.8L549.3,293.2" stroke="#e90000"/>
<path d="M569.0,271.0L570.7,272.5" stroke="#007dff"/>
<path d="M684.8,269.7L682.8,270.7" stroke="#004eff"/>
<path d="M681.8,289.9L684.5,291.3" stroke="#ff2900"/>
<path d="M684.5,291.3L687.4,292.5" stroke="#ff0e00"/>
<path d="M566.8,269.7L569.0,271.0" stroke="#004eff"/>
<path d="M679.5,288.3L681.8,289.9" stroke="#ff4c00"/>
<path d="M528.9,273.9L530.5,272.4" stroke="#0094ff"/>
<path d="M687.4,292.5L690.6,293.4" stroke="#f90000"/>
<path d="M677.6,286.7L679.5,288.3" stroke="#ff7600"/>
<path d="M549.3,293.2L546.4,293.4" stroke="#f20000"/>
<path d="M690.6,293.4L693.9,294.1" stroke="#ec0000"/>
<path d="M564.2,268.6L566.8,269.7" stroke="#0027ff"/>
<path d="M676.1,285.0L677.6,286.7" stroke="#ffa800"/>
<path d="M530.5,272.4L532.6,271.1" stroke="#0062ff"/>
<path d="M687.1,268.9L684.8,269.7" stroke="#0027ff"/>
<path d="M693.9,294.1L697.3,294.6" stroke="#e70000"/>
<path d="M675.0,283.2L676.1,285.0" stroke="#ffe400"/>
<path d="M561.3,267.7L564.2,268.6" stroke="#0008ff"/>
<path d="M546.4,293.4L543.6,293.3" stroke="#ff0400"/>
<path d="M697.3,294.6L700.7,294.7" stroke="#e90000"/>
<path d="M532.6,271.1L535.0,269.8" stroke="#0037ff"/>
<path d="M558.1,267.1L561.3,267.7" stroke="#0000ef"/>
<path d="M689.8,268.3L687.1,268.9" stroke="#0008ff"/>
<path d="M674.5,281.5L675.0,283.2" stroke="#d1ff2e"/>
<path d="M535.0,269.8L537.8,268.8" stroke="#0015ff"/>
<path d="M700.7,294.7L704.0,294.5" stroke="#f20000"/>
<path d="M554.8,266.7L558.1,267.1" stroke="#0000de"/>
<path d="M537.8,268.8L541.0,267.9" stroke="#0000f8"/>
<path d="M551.3,266.6L554.8,266.7" stroke="#0000d4"/>
<path d="M543.6,293.3L541.1,292.9" stroke="#ff1c00"/>
<path d="M541.0,267.9L544.3,267.2" stroke="#0000e4"/>
<path d="M547.8,266.8L551.3,266.6" stroke="#0000d2"/>
<path d="M704.0,294.5L707.1,294.1" stroke="#ff0400"/>
<path d="M544.3,267.2L547.8,266.8" stroke="#0000d8"/>
<path d="M674.4,279.9L674.5,281.5" stroke="#50ffaf"/>
<path d="M692.7,268.1L689.8,268.3" stroke="#0000ef"/>
<path d="M578.1,286.6L577.1,288.6" stroke="#ffa800"/>
<path d="M577.1,288.6L575.7,290.6" stroke="#ff7600"/>
<path d="M578.7,284.6L578.1,286.6" stroke="#ffe400"/>
<path d="M575.7,290.6L573.9,292.5" stroke="#ff4c00"/>
<path d="M707.1,294.1L710.0,293.3" stroke="#ff1c00"/>
<path d="M578.9,282.7L578.7,284.6" stroke="#d1ff2e"/>
<path d="M674.8,278.4L674.4,279.9" stroke="#00f6ff"/>
<path d="M695.8,268.1L692.7,268.1" stroke="#0000de"/>
<path d="M573.9,292.5L571.8,294.3" stroke="#ff2900"/>
<path d="M541.1,292.9L539.0,292.3" stroke="#ff3c00"/>
<path d="M710.0,293.3L712.6,292.3" stroke="#ff3c00"/>
<path d="M578.6,280.8L578.9,282.7" stroke="#50ffaf"/>
<path d="M571.8,294.3L569.5,295.9" stroke="#ff0e00"/>
<path d="M699.0,268.4L695.8,268.1" stroke="#0000d4"/>
<path d="M675.7,277.1L674.8,278.4" stroke="#00b4ff"/>
<path d="M712.6,292.3L714.8,291.0" stroke="#ff6200"/>
<path d="M577.9,279.1L578.6,280.8" stroke="#00f6ff"/>
<path d="M539.0,292.3L537.3,291.4" stroke="#ff6200"/>
<path d="M569.5,295.9L567.1,297.3" stroke="#f90000"/>
<path d="M702.2,269.1L699.0,268.4" stroke="#0000d2"/>
<path d="M714.8,291.0L716.6,289.5" stroke="#ff9100"/>
<path d="M576.6,277.6L577.9,279.1" stroke="#00b4ff"/>
<path d="M677.0,276.0L675.7,277.1" stroke="#007dff"/>
<path d="M716.6,289.5L718.0,287.7" stroke="#ffc800"/>
<path d="M705.3,270.0L702.2,269.1" stroke="#0000d8"/>
<path d="M567.1,297.3L564.6,298.5" stroke="#ec0000"/>
<path d="M537.3,291.4L535.9,290.3" stroke="#ff9100"/>
<path d="M575.0,276.2L576.6,277.6" stroke="#007dff"/>
<path d="M718.0,287.7L718.8,285.9" stroke="#f4ff0b"/>
<path d="M708.3,271.1L705.3,270.0" stroke="#0000e4"/>
<path d="M669.0,291.3L670.7,293.1" stroke="#ff7600"/>
<path d="M670.7,293.1L672.7,294.9" stroke="#ff4c00"/>
<path d="M667.6,289.4L669.0,291.3" stroke="#ffa800"/>
<path d="M672.7,294.9L675.1,296.5" stroke="#ff2900"/>
<path d="M718.8,285.9L719.2,283.9" stroke="#9aff65"/>
<path d="M678.7,275.1L677.0,276.0" stroke="#004eff"/>
<path d="M711.0,272.5L708.3,271.1" stroke="#0000f8"/>
<path d="M666.7,287.6L667.6,289.4" stroke="#ffe400"/>
<path d="M564.6,298.5L562.0,299.5" stroke="#e70000"/>
<path d="M572.9,275.1L575.0,276.2" stroke="#004eff"/>
<path d="M675.1,296.5L677.7,298.0" stroke="#ff0e00"/>
<path d="M719.2,283.9L719.0,281.9" stroke="#1affe5"/>
<path d="M713.5,274.1L711.0,272.5" stroke="#0015ff"/>
<path d="M535.9,290.3L535.1,289.1" stroke="#ffc800"/>
<path d="M719.0,281.9L718.3,279.9" stroke="#00cfff"/>
<path d="M715.5,275.9L713.5,274.1" stroke="#0037ff"/>
<path d="M718.3,279.9L717.1,277.9" stroke="#0094ff"/>
<path d="M666.1,285.9L666.7,287.6" stroke="#d1ff2e"/>
<path d="M717.1,277.9L715.5,275.9" stroke="#0062ff"/>
<path d="M677.7,298.0L680.5,299.3" stroke="#f90000"/>
<path d="M570.5,274.3L572.9,275.1" stroke="#0027ff"/>
<path d="M680.7,274.5L678.7,275.1" stroke="#0027ff"/>
<path d="M562.0,299.5L559.5,300.2" stroke="#e90000"/>
<path d="M665.9,284.2L666.1,285.9" stroke="#50ffaf"/>
<path d="M680.5,299.3L683.4,300.3" stroke="#ec0000"/>
<path d="M535.1,289.1L534.8,287.7" stroke="#f4ff0b"/>
<path d="M587.6,290.8L586.9,292.9" stroke="#ffa800"/>
<path d="M588.0,288.8L587.6,290.8" stroke="#ffe400"/>
<path d="M586.9,292.9L585.9,295.0" stroke="#ff7600"/>
<path d="M567.8,273.7L570.5,274.3" stroke="#0008ff"/>
<path d="M588.1,286.8L588.0,288.8" stroke="#d1ff2e"/>
<path d="M585.9,295.0L584.6,297.0" stroke="#ff4c00"/>
<path d="M683.4,300.3L686.5,301.0" stroke="#e70000"/>
<path d="M666.2,282.8L665.9,284.2" stroke="#00f6ff"/>
<path d="M683.0,274.2L680.7,274.5" stroke="#0008ff"/>
<path d="M587.7,285.0L588.1,286.8" stroke="#50ffaf"/>
<path d="M534.8,287.7L534.9,286.1" stroke="#9aff65"/>
<path d="M559.5,300.2L557.1,300.6" stroke="#f20000"/>
<path d="M584.6,297.0L583.1,299.0" stroke="#ff2900"/>
<path d="M564.8,273.4L567.8,273.7" stroke="#0000ef"/>
<path d="M686.5,301.0L689.5,301.5" stroke="#e90000"/>
<path d="M587.0,283.3L587.7,285.0" stroke="#00f6ff"/>
<path d="M666.8,281.5L666.2,282.8" stroke="#00b4ff"/>
<path d="M534.9,286.1L535.6,284.6" stroke="#1affe5"/>
<path d="M561.6,273.3L564.8,273.4" stroke="#0000de"/>
<path d="M583.1,299.0L581.5,300.8" stroke="#ff0e00"/>
<path d="M685.5,274.2L683.0,274.2" stroke="#0000ef"/>
<path d="M557.1,300.6L554.9,300.7" stroke="#ff0400"/>
<path d="M585.9,281.9L587.0,283.3" stroke="#00b4ff"/>
<path d="M689.5,301.5L692.5,301.6" stroke="#f20000"/>
<path d="M535.6,284.6L536.7,282.9" stroke="#00cfff"/>
<path d="M558.3,273.6L561.6,273.3" stroke="#0000d4"/>
<path d="M656.3,293.0L657.4,294.9" stroke="#ffa800"/>
<path d="M657.4,294.9L658.8,296.9" stroke="#ff7600"/>
<path d="M655.5,291.0L656.3,293.0" stroke="#ffe400"/>
<path d="M581.5,300.8L579.7,302.4" stroke="#f90000"/>
<path d="M667.7,280.5L666.8,281.5" stroke="#007dff"/>
<path d="M658.8,296.9L660.5,298.9" stroke="#ff4c00"/>
<path d="M536.7,282.9L538.3,281.3" stroke="#0094ff"/>
<path d="M555.0,274.1L558.3,273.6" stroke="#0000d2"/>
<path d="M688.1,274.5L685.5,274.2" stroke="#0000de"/>
<path d="M584.4,280.7L585.9,281.9" stroke="#007dff"/>
<path d="M655.0,289.2L655.5,291.0" stroke="#d1ff2e"/>
<path d="M660.5,298.9L662.4,300.7" stroke="#ff2900"/>
<path d="M692.5,301.6L695.3,301.4" stroke="#ff0400"/>
<path d="M551.7,274.8L555.0,274.1" stroke="#0000d8"/>
<path d="M538.3,281.3L540.4,279.8" stroke="#0062ff"/>
<path d="M554.9,300.7L552.9,300.6" stroke="#ff1c00"/>
<path d="M548.5,275.8L551.7,274.8" stroke="#0000e4"/>
<path d="M540.4,279.8L542.8,278.3" stroke="#0037ff"/>
<path d="M599.8,293.9L599.4,296.1" stroke="#ffa800"/>
<path d="M599.9,291.9L599.8,293.9" stroke="#ffe400"/>
<path d="M662.4,300.7L664.5,302.4" stroke="#ff0e00"/>
<path d="M654.7,287.6L655.0,289.2" stroke="#50ffaf"/>
<path d="M579.7,302.4L577.9,303.9" stroke="#ec0000"/>
<path d="M545.5,277.0L548.5,275.8" stroke="#0000f8"/>
<path d="M542.8,278.3L545.5,277.0" stroke="#0015ff"/>
<path d="M599.4,296.1L598.9,298.2" stroke="#ff7600"/>
<path d="M669.0,279.8L667.7,280.5" stroke="#004eff"/>
<path d="M599.8,289.9L599.9,291.9" stroke="#d1ff2e"/>
<path d="M582.6,279.8L584.4,280.7" stroke="#004eff"/>
<path d="M695.3,301.4L697.9,300.9" stroke="#ff1c00"/>
<path d="M690.8,275.2L688.1,274.5" stroke="#0000d4"/>
<path d="M598.9,298.2L598.2,300.4" stroke="#ff4c00"/>
<path d="M599.4,288.1L599.8,289.9" stroke="#50ffaf"/>
<path d="M664.5,302.4L666.7,303.9" stroke="#f90000"/>
<path d="M654.8,286.1L654.7,287.6" stroke="#00f6ff"/>
<path d="M552.9,300.6L551.3,300.1" stroke="#ff3c00"/>
<path d="M697.9,300.9L700.3,300.1" stroke="#ff3c00"/>
<path d="M577.9,303.9L576.0,305.0" stroke="#e70000"/>
<path d="M598.2,300.4L597.3,302.4" stroke="#ff2900"/>
<path d="M580.5,279.2L582.6,279.8" stroke="#0027ff"/>
<path d="M693.5,276.1L690.8,275.2" stroke="#0000d2"/>
<path d="M598.8,286.6L599.4,288.1" stroke="#00f6ff"/>
<path d="M670.5,279.4L669.0,279.8" stroke="#0027ff"/>
<path d="M642.9,295.3L643.8,297.4" stroke="#ffa800"/>
<path d="M642.3,293.3L642.9,295.3" stroke="#ffe400"/>
<path d="M643.8,297.4L644.7,299.5" stroke="#ff7600"/>
<path d="M666.7,303.9L669.1,305.2" stroke="#ec0000"/>
<path d="M655.0,284.9L654.8,286.1" stroke="#00b4ff"/>
<path d="M641.8,291.4L642.3,293.3" stroke="#d1ff2e"/>
<path d="M644.7,299.5L645.9,301.5" stroke="#ff4c00"/>
<path d="M700.3,300.1L702.4,299.0" stroke="#ff6200"/>
<path d="M613.7,295.8L613.7,297.9" stroke="#ffa800"/>
<path d="M613.5,293.7L613.7,295.8" stroke="#ffe400"/>
<path d="M597.3,302.4L596.4,304.4" stroke="#ff0e00"/>
<path d="M597.8,285.2L598.8,286.6" stroke="#00b4ff"/>
<path d="M696.1,277.3L693.5,276.1" stroke="#0000d8"/>
<path d="M551.3,300.1L549.9,299.4" stroke="#ff6200"/>
<path d="M613.7,297.9L613.7,300.1" stroke="#ff7600"/>
<path d="M578.2,278.8L580.5,279.2" stroke="#0008ff"/>
<path d="M613.3,291.8L613.5,293.7" stroke="#d1ff2e"/>
<path d="M641.5,289.8L641.8,291.4" stroke="#50ffaf"/>
<path d="M576.0,305.0L574.2,305.9" stroke="#e90000"/>
<path d="M645.9,301.5L647.2,303.5" stroke="#ff2900"/>
<path d="M628.4,296.2L628.8,298.4" stroke="#ffa800"/>
<path d="M669.1,305.2L671.5,306.2" stroke="#e70000"/>
<path d="M628.0,294.2L628.4,296.2" stroke="#ffe400"/>
<path d="M672.2,279.3L670.5,279.4" stroke="#0008ff"/>
<path d="M702.4,299.0L704.2,297.7" stroke="#ff9100"/>
<path d="M613.7,300.1L613.6,302.3" stroke="#ff4c00"/>
<path d="M628.8,298.4L629.3,300.6" stroke="#ff7600"/>
<path d="M612.9,290.0L613.3,291.8" stroke="#50ffaf"/>
<path d="M655.6,284.0L655.0,284.9" stroke="#007dff"/>
<path d="M627.6,292.3L628.0,294.2" stroke="#d1ff2e"/>
<path d="M698.5,278.7L696.1,277.3" stroke="#0000e4"/>
<path d="M596.4,304.4L595.4,306.2" stroke="#f90000"/>
<path d="M596.7,284.2L597.8,285.2" stroke="#007dff"/>
<path d="M629.3,300.6L629.9,302.7" stroke="#ff4c00"/>
<path d="M641.4,288.3L641.5,289.8" stroke="#00f6ff"/>
<path d="M647.2,303.5L648.6,305.4" stroke="#ff0e00"/>
<path d="M575.6,278.8L578.2,278.8" stroke="#0000ef"/>
<path d="M549.9,299.4L549.0,298.4" stroke="#ff9100"/>
<path d="M627.2,290.6L627.6,292.3" stroke="#50ffaf"/>
<path d="M704.2,297.7L705.5,296.1" stroke="#ffc800"/>
<path d="M613.6,302.3L613.5,304.4" stroke="#ff2900"/>
<path d="M612.4,288.5L612.9,290.0" stroke="#00f6ff"/>
<path d="M700.8,280.3L698.5,278.7" stroke="#0000f8"/>
<path d="M671.5,306.2L674.0,306.9" stroke="#e90000"/>
<path d="M574.2,305.9L572.5,306.6" stroke="#f20000"/>
<path d="M629.9,302.7L630.5,304.8" stroke="#ff2900"/>
<path d="M705.5,296.1L706.4,294.3" stroke="#f4ff0b"/>
<path d="M674.1,279.5L672.2,279.3" stroke="#0000ef"/>
<path d="M656.3,283.4L655.6,284.0" stroke="#004eff"/>
<path d="M626.9,289.1L627.2,290.6" stroke="#00f6ff"/>
<path d="M702.8,282.2L700.8,280.3" stroke="#0015ff"/>
<path d="M648.6,305.4L650.1,307.1" stroke="#f90000"/>
<path d="M641.3,287.1L641.4,288.3" stroke="#00b4ff"/>
<path d="M595.3,283.4L596.7,284.2" stroke="#004eff"/>
<path d="M595.4,306.2L594.4,307.7" stroke="#ec0000"/>
<path d="M613.5,304.4L613.4,306.4" stroke="#ff0e00"/>
<path d="M572.8,279.0L575.6,278.8" stroke="#0000de"/>
<path d="M611.7,287.3L612.4,288.5" stroke="#00b4ff"/>
<path d="M706.4,294.3L706.9,292.4" stroke="#9aff65"/>
<path d="M549.0,298.4L548.5,297.3" stroke="#ffc800"/>
<path d="M704.4,284.1L702.8,282.2" stroke="#0037ff"/>
<path d="M630.5,304.8L631.2,306.8" stroke="#ff0e00"/>
<path d="M706.9,292.4L706.9,290.4" stroke="#1affe5"/>
<path d="M674.0,306.9L676.4,307.3" stroke="#f20000"/>
<path d="M705.7,286.2L704.4,284.1" stroke="#0062ff"/>
<path d="M706.9,290.4L706.5,288.3" stroke="#00cfff"/>
<path d="M706.5,288.3L705.7,286.2" stroke="#0094ff"/>
<path d="M626.5,287.9L626.9,289.1" stroke="#00b4ff"/>
<path d="M572.5,306.6L571.0,306.9" stroke="#ff0400"/>
<path d="M650.1,307.1L651.8,308.6" stroke="#ec0000"/>
<path d="M569.9,279.6L572.8,279.0" stroke="#0000d4"/>
<path d="M676.1,280.0L674.1,279.5" stroke="#0000de"/>
<path d="M641.4,286.2L641.3,287.1" stroke="#007dff"/>
<path d="M593.6,282.9L595.3,283.4" stroke="#0027ff"/>
<path d="M613.4,306.4L613.2,308.3" stroke="#f90000"/>
<path d="M610.9,286.3L611.7,287.3" stroke="#007dff"/>
<path d="M548.5,297.3L548.4,295.9" stroke="#f4ff0b"/>
<path d="M657.2,283.1L656.3,283.4" stroke="#0027ff"/>
<path d="M594.4,307.7L593.4,309.0" stroke="#e70000"/>
<path d="M631.2,306.8L631.9,308.6" stroke="#f90000"/>
<path d="M676.4,307.3L678.7,307.4" stroke="#ff0400"/>
<path d="M567.0,280.4L569.9,279.6" stroke="#0000d2"/>
<path d="M626.2,287.0L626.5,287.9" stroke="#007dff"/>
<path d="M548.4,295.9L548.7,294.3" stroke="#9aff65"/>
<path d="M651.8,308.6L653.4,309.8" stroke="#e70000"/>
<path d="M678.1,280.9L676.1,280.0" stroke="#0000d4"/>
<path d="M641.6,285.7L641.4,286.2" stroke="#004eff"/>
<path d="M591.8,282.8L593.6,282.9" stroke="#0008ff"/>
<path d="M613.2,308.3L613.1,309.9" stroke="#ec0000"/>
<path d="M571.0,306.9L569.7,306.9" stroke="#ff1c00"/>
<path d="M610.0,285.7L610.9,286.3" stroke="#004eff"/>
<path d="M564.1,281.4L567.0,280.4" stroke="#0000d8"/>
<path d="M658.3,283.1L657.2,283.1" stroke="#0008ff"/>
<path d="M631.9,308.6L632.7,310.2" stroke="#ec0000"/>
<path d="M593.4,309.0L592.5,310.1" stroke="#e90000"/>
<path d="M548.7,294.3L549.4,292.7" stroke="#1affe5"/>
<path d="M678.7,307.4L681.0,307.1" stroke="#ff1c00"/>
<path d="M625.8,286.4L626.2,287.0" stroke="#004eff"/>
<path d="M561.3,282.7L564.1,281.4" stroke="#0000e4"/>
<path d="M549.4,292.7L550.6,290.9" stroke="#00cfff"/>
<path d="M653.4,309.8L655.2,310.7" stroke="#e90000"/>
<path d="M680.1,282.0L678.1,280.9" stroke="#0000d2"/>
<path d="M589.8,283.0L591.8,282.8" stroke="#0000ef"/>
<path d="M558.7,284.1L561.3,282.7" stroke="#0000f8"/>
<path d="M608.9,285.3L610.0,285.7" stroke="#0027ff"/>
<path d="M641.9,285.4L641.6,285.7" stroke="#0027ff"/>
<path d="M613.1,309.9L613.0,311.2" stroke="#e70000"/>
<path d="M569.7,306.9L568.6,306.5" stroke="#ff3c00"/>
<path d="M550.6,290.9L552.1,289.2" stroke="#0094ff"/>
<path d="M681.0,307.1L683.0,306.5" stroke="#ff3c00"/>
<path d="M556.2,285.7L558.7,284.1" stroke="#0015ff"/>
<path d="M632.7,310.2L633.5,311.5" stroke="#e70000"/>
<path d="M552.1,289.2L554.0,287.4" stroke="#0062ff"/>
<path d="M659.5,283.5L658.3,283.1" stroke="#0000ef"/>
<path d="M554.0,287.4L556.2,285.7" stroke="#0037ff"/>
<path d="M592.5,310.1L591.6,310.8" stroke="#f20000"/>
<path d="M625.4,286.2L625.8,286.4" stroke="#0027ff"/>
<path d="M682.0,283.4L680.1,282.0" stroke="#0000d8"/>
<path d="M655.2,310.7L656.9,311.3" stroke="#f20000"/>
<path d="M587.6,283.5L589.8,283.0" stroke="#0000de"/>
<path d="M683.0,306.5L684.8,305.6" stroke="#ff6200"/>
<path d="M607.7,285.3L608.9,285.3" stroke="#0008ff"/>
<path d="M568.6,306.5L567.8,305.9" stroke="#ff6200"/>
<path d="M613.0,311.2L613.0,312.3" stroke="#e90000"/>
<path d="M642.2,285.5L641.9,285.4" stroke="#0008ff"/>
<path d="M633.5,311.5L634.4,312.5" stroke="#e90000"/>
<path d="M660.7,284.2L659.5,283.5" stroke="#0000de"/>
<path d="M683.8,285.1L682.0,283.4" stroke="#0000e4"/>
<path d="M591.6,310.8L590.9,311.2" stroke="#ff0400"/>
<path d="M684.8,305.6L686.3,304.5" stroke="#ff9100"/>
<path d="M624.9,286.3L625.4,286.2" stroke="#0008ff"/>
<path d="M585.4,284.3L587.6,283.5" stroke="#0000d4"/>
<path d="M656.9,311.3L658.6,311.6" stroke="#ff0400"/>
<path d="M567.8,305.9L567.3,305.0" stroke="#ff9100"/>
<path d="M606.4,285.7L607.7,285.3" stroke="#0000ef"/>
<path d="M685.5,286.9L683.8,285.1" stroke="#0000f8"/>
<path d="M686.3,304.5L687.6,303.0" stroke="#ffc800"/>
<path d="M613.0,312.3L613.0,313.1" stroke="#f20000"/>
<path d="M642.5,285.9L642.2,285.5" stroke="#0000ef"/>
<path d="M634.4,312.5L635.3,313.3" stroke="#f20000"/>
<path d="M661.9,285.2L660.7,284.2" stroke="#0000d4"/>
<path d="M583.1,285.3L585.4,284.3" stroke="#0000d2"/>
<path d="M686.8,288.9L685.5,286.9" stroke="#0015ff"/>
<path d="M590.9,311.2L590.3,311.3" stroke="#ff1c00"/>
<path d="M687.6,303.0L688.5,301.3" stroke="#f4ff0b"/>
<path d="M567.3,305.0L567.1,303.9" stroke="#ffc800"/>
<path d="M658.6,311.6L660.2,311.5" stroke="#ff1c00"/>
<path d="M624.4,286.7L624.9,286.3" stroke="#0000ef"/>
<path d="M687.9,291.0L686.8,288.9" stroke="#0037ff"/>
<path d="M688.5,301.3L689.1,299.4" stroke="#9aff65"/>
<path d="M605.1,286.3L606.4,285.7" stroke="#0000de"/>
<path d="M580.8,286.6L583.1,285.3" stroke="#0000d8"/>
<path d="M688.7,293.1L687.9,291.0" stroke="#0062ff"/>
<path d="M689.1,299.4L689.3,297.4" stroke="#1affe5"/>
<path d="M642.9,286.7L642.5,285.9" stroke="#0000de"/>
<path d="M613.0,313.1L613.1,313.5" stroke="#ff0400"/>
<path d="M663.1,286.5L661.9,285.2" stroke="#0000d2"/>
<path d="M689.2,295.3L688.7,293.1" stroke="#0094ff"/>
<path d="M689.3,297.4L689.2,295.3" stroke="#00cfff"/>
<path d="M635.3,313.3L636.2,313.7" stroke="#ff0400"/>
<path d="M567.1,303.9L567.2,302.5" stroke="#f4ff0b"/>
<path d="M590.3,311.3L589.8,311.1" stroke="#ff3c00"/>
<path d="M660.2,311.5L661.8,311.1" stroke="#ff3c00"/>
<path d="M578.6,288.1L580.8,286.6" stroke="#0000e4"/>
<path d="M623.9,287.4L624.4,286.7" stroke="#0000de"/>
<path d="M603.6,287.3L605.1,286.3" stroke="#0000d4"/>
<path d="M567.2,302.5L567.7,300.9" stroke="#9aff65"/>
<path d="M664.2,288.0L663.1,286.5" stroke="#0000d8"/>
<path d="M643.2,287.8L642.9,286.7" stroke="#0000d4"/>
<path d="M576.4,289.8L578.6,288.1" stroke="#0000f8"/>
<path d="M613.1,313.5L613.3,313.7" stroke="#ff1c00"/>
<path d="M636.2,313.7L637.1,313.7" stroke="#ff1c00"/>
<path d="M661.8,311.1L663.2,310.3" stroke="#ff6200"/>
<path d="M567.7,300.9L568.5,299.2" stroke="#1affe5"/>
<path d="M589.8,311.1L589.6,310.5" stroke="#ff6200"/>
<path d="M574.4,291.6L576.4,289.8" stroke="#0015ff"/>
<path d="M568.5,299.2L569.5,297.3" stroke="#00cfff"/>
<path d="M623.3,288.5L623.9,287.4" stroke="#0000d4"/>
<path d="M602.1,288.5L603.6,287.3" stroke="#0000d2"/>
<path d="M572.5,293.5L574.4,291.6" stroke="#0037ff"/>
<path d="M569.5,297.3L570.9,295.4" stroke="#0094ff"/>
<path d="M665.2,289.8L664.2,288.0" stroke="#0000e4"/>
<path d="M570.9,295.4L572.5,293.5" stroke="#0062ff"/>
<path d="M663.2,310.3L664.4,309.3" stroke="#ff9100"/>
<path d="M643.5,289.1L643.2,287.8" stroke="#0000d2"/>
<path d="M613.3,313.7L613.5,313.4" stroke="#ff3c00"/>
<path d="M637.1,313.7L638.1,313.4" stroke="#ff3c00"/>
<path d="M589.6,310.5L589.6,309.7" stroke="#ff9100"/>
<path d="M666.0,291.8L665.2,289.8" stroke="#0000f8"/>
<path d="M600.5,290.0L602.1,288.5" stroke="#0000d8"/>
<path d="M622.7,289.9L623.3,288.5" stroke="#0000d2"/>
<path d="M664.4,309.3L665.5,307.9" stroke="#ffc800"/>
<path d="M589.6,309.7L589.7,308.5" stroke="#ffc800"/>
<path d="M643.7,290.8L643.5,289.1" stroke="#0000d8"/>
<path d="M666.7,293.9L666.0,291.8" stroke="#0015ff"/>
<path d="M638.1,313.4L639.0,312.8" stroke="#ff6200"/>
<path d="M613.5,313.4L613.9,312.9" stroke="#ff6200"/>
<path d="M665.5,307.9L666.3,306.4" stroke="#f4ff0b"/>
<path d="M599.0,291.7L600.5,290.0" stroke="#0000e4"/>
<path d="M667.2,296.0L666.7,293.9" stroke="#0037ff"/>
<path d="M622.0,291.5L622.7,289.9" stroke="#0000d8"/>
<path d="M666.3,306.4L667.0,304.5" stroke="#9aff65"/>
<path d="M589.7,308.5L590.1,307.1" stroke="#f4ff0b"/>
<path d="M667.5,298.2L667.2,296.0" stroke="#0062ff"/>
<path d="M643.8,292.6L643.7,290.8" stroke="#0000e4"/>
<path d="M667.0,304.5L667.4,302.5" stroke="#1affe5"/>
<path d="M597.5,293.6L599.0,291.7" stroke="#0000f8"/>
<path d="M639.0,312.8L639.8,311.9" stroke="#ff9100"/>
<path d="M613.9,312.9L614.3,312.0" stroke="#ff9100"/>
<path d="M667.6,300.4L667.5,298.2" stroke="#0094ff"/>
<path d="M667.4,302.5L667.6,300.4" stroke="#00cfff"/>
<path d="M590.1,307.1L590.7,305.5" stroke="#9aff65"/>
<path d="M621.3,293.3L622.0,291.5" stroke="#0000e4"/>
<path d="M596.0,295.6L597.5,293.6" stroke="#0015ff"/>
<path d="M643.9,294.6L643.8,292.6" stroke="#0000f8"/>
<path d="M639.8,311.9L640.6,310.6" stroke="#ffc800"/>
<path d="M590.7,305.5L591.4,303.7" stroke="#1affe5"/>
<path d="M614.3,312.0L614.8,310.8" stroke="#ffc800"/>
<path d="M594.7,297.6L596.0,295.6" stroke="#0037ff"/>
<path d="M591.4,303.7L592.4,301.7" stroke="#00cfff"/>
<path d="M593.5,299.7L594.7,297.6" stroke="#0062ff"/>
<path d="M592.4,301.7L593.5,299.7" stroke="#0094ff"/>
<path d="M620.5,295.2L621.3,293.3" stroke="#0000f8"/>
<path d="M643.9,296.7L643.9,294.6" stroke="#0015ff"/>
<path d="M640.6,310.6L641.4,309.1" stroke="#f4ff0b"/>
<path d="M614.8,310.8L615.4,309.3" stroke="#f4ff0b"/>
<path d="M619.7,297.3L620.5,295.2" stroke="#0015ff"/>
<path d="M643.7,298.9L643.9,296.7" stroke="#0037ff"/>
<path d="M641.4,309.1L642.1,307.3" stroke="#9aff65"/>
<path d="M615.4,309.3L616.0,307.6" stroke="#9aff65"/>
<path d="M643.5,301.1L643.7,298.9" stroke="#0062ff"/>
<path d="M642.1,307.3L642.6,305.4" stroke="#1affe5"/>
<path d="M619.0,299.5L619.7,297.3" stroke="#0037ff"/>
<path d="M643.1,303.3L643.5,301.1" stroke="#0094ff"/>
<path d="M642.6,305.4L643.1,303.3" stroke="#00cfff"/>
<path d="M616.0,307.6L616.7,305.8" stroke="#1affe5"/>
<path d="M618.2,301.6L619.0,299.5" stroke="#0062ff"/>
<path d="M616.7,305.8L617.4,303.7" stroke="#00cfff"/>
<path d="M617.4,303.7L618.2,301.6" stroke="#0094ff"/>
</g></g>
<g id="images"><g filter="url(#b2)">
<clipPath id="c1"><rect x="756.9" y="249.9" width="47.6" height="48"/></clipPath>
<g clip-path="url(#c1)">
<rect x="756.9" y="249.9" width="47.6" height="48" fill="#a98c6e"/>
<path d="M757,251.5 L805,251.5 M757,255.5 L805,255.5 M757,259.5 L805,259.5 M757,263.5 L805,263.5 M757,267.5 L805,267.5 M757,271.5 L805,271.5 M757,275.5 L805,275.5 M757,279.5 L805,279.5 M757,283.5 L805,283.5 M757,287.5 L805,287.5 M757,291.5 L805,291.5 M757,295.5 L805,295.5" stroke="#c2a686" stroke-width="1.5" fill="none" opacity="0.8"/>
<rect x="756.9" y="249.9" width="47.6" height="2.6" fill="#6e5a48"/>
<path d="M761.5,255 L780.6,299" stroke="#1a5a9c" stroke-width="5.6" fill="none"/>
<path d="M761,255 L767.4,299" stroke="#0c5a1c" stroke-width="5" fill="none"/>
<path d="M759.3,253.2 L806,268.2" stroke="#0e0626" stroke-width="6" fill="none"/>
<path d="M760,254 L805.5,297.8" stroke="#040404" stroke-width="6.4" fill="none"/>
<path d="M758.4,250 L758.4,300" stroke="#0a0608" stroke-width="3.4" fill="none"/>
<circle cx="761.4" cy="254.6" r="4.6" fill="#06040a"/>
</g>
<linearGradient id="g2" x1="0" y1="300.3" x2="0" y2="341.7" gradientUnits="userSpaceOnUse"><stop offset="0.000" stop-color="#2058dc"/><stop offset="0.070" stop-color="#1c68e6"/><stop offset="0.140" stop-color="#1e88f0"/><stop offset="0.230" stop-color="#1fc8f0"/><stop offset="0.340" stop-color="#1fe0c4"/><stop offset="0.420" stop-color="#18d248"/><stop offset="0.510" stop-color="#12d012"/><stop offset="0.600" stop-color="#7cde10"/><stop offset="0.670" stop-color="#ece410"/><stop offset="0.760" stop-color="#f4d810"/><stop offset="0.830" stop-color="#f29410"/><stop offset="0.900" stop-color="#f06010"/><stop offset="0.980" stop-color="#e82410"/><stop offset="1.000" stop-color="#e02010"/></linearGradient>
<clipPath id="c2"><rect x="732.6" y="299.8" width="47.5" height="45"/></clipPath>
<g clip-path="url(#c2)">
<rect x="732.6" y="299.8" width="47.5" height="45" fill="#84007e"/>
<path d="M735.2,299.5 L736,302 C738.5,307.5 741,314 744.1,319.4 C747,324.5 750,330 752.6,334.2 C755,338 759,341.4 763.2,341.7 C766.5,341.8 769.5,339 770.6,337.4 C773,334 776,329 778,323.6 C779,321 780.1,318 780.1,316.2 L781,316 L781,299 L732.6,299 Z" fill="url(#g2)"/>
</g>
<linearGradient id="g3" x1="0" y1="367.7" x2="0" y2="405.6" gradientUnits="userSpaceOnUse"><stop offset="0.000" stop-color="#e03010"/><stop offset="0.080" stop-color="#f04410"/><stop offset="0.160" stop-color="#f28810"/><stop offset="0.260" stop-color="#f0d410"/><stop offset="0.350" stop-color="#c8e010"/><stop offset="0.420" stop-color="#34d210"/><stop offset="0.520" stop-color="#12d03c"/><stop offset="0.600" stop-color="#10d09c"/><stop offset="0.680" stop-color="#12d2e2"/><stop offset="0.760" stop-color="#1e90f0"/><stop offset="0.830" stop-color="#1240e0"/><stop offset="0.900" stop-color="#1010c4"/><stop offset="1.000" stop-color="#0808aa"/></linearGradient>
<clipPath id="c3"><rect x="702.8" y="365.8" width="113.1" height="39.8"/></clipPath>
<g clip-path="url(#c3)">
<rect x="702.8" y="365.8" width="113.1" height="39.8" fill="#82007c"/>
<path d="M702,387.8 L702.8,387.2 C708,384.5 712.5,381.8 717.4,379 C722,376.4 727,374 732.4,372.2 C737,370.6 742,369.2 747.4,368.5 C751,368 754.5,367.7 757.8,367.7 C763,367.7 768,368.3 772.8,369.2 C778,370.2 783,371.8 787.7,373.7 C792,375.4 796,377.5 799.7,379.7 C805,382.7 810,385 816.5,386.6 L816.5,406 L702,406 Z" fill="url(#g3)"/>
</g>
</g>
<g filter="url(#b1)" fill="none" stroke-width="1.7">
<ellipse cx="755.1" cy="439" rx="59.6" ry="32.2" stroke="#64748f"/>
<ellipse cx="755.5" cy="439.1" rx="50.8" ry="27.4" stroke="#64748f"/>
<ellipse cx="755.1" cy="438.7" rx="41.5" ry="23" stroke="#64748f"/>
<ellipse cx="754.3" cy="438.3" rx="37.4" ry="18.5" stroke="#687891"/>
<ellipse cx="754.7" cy="438.3" rx="26.6" ry="13.7" stroke="#687891"/>
<ellipse cx="754.9" cy="438.3" rx="18.3" ry="8.9" stroke="#c4c4c6"/>
</g></g>
<g id="cite"><g filter="url(#b1)">
<text font-size="14" font-weight="bold" font-family='"Liberation Sans", sans-serif'><tspan x="575.8" y="370" textLength="30.5" lengthAdjust="spacingAndGlyphs" fill="#cf2f33">Ang.</tspan> <tspan x="613" y="370" textLength="61.3" lengthAdjust="spacingAndGlyphs" fill="#2d2dbb">Blueshift</tspan></text>
<text font-size="14" font-weight="bold" font-family='"Liberation Sans", sans-serif'><tspan x="575.8" y="387.5" textLength="65" lengthAdjust="spacingAndGlyphs" fill="#cf2f33">Opt. Lett.</tspan></text>
<text font-size="14" font-weight="bold" font-family='"Liberation Sans", sans-serif'><tspan x="575.8" y="404.8" textLength="108" lengthAdjust="spacingAndGlyphs" fill="#cf2f33">28, 1861 (2003)</tspan></text>
</g></g>
</svg>
</body>
</html>
